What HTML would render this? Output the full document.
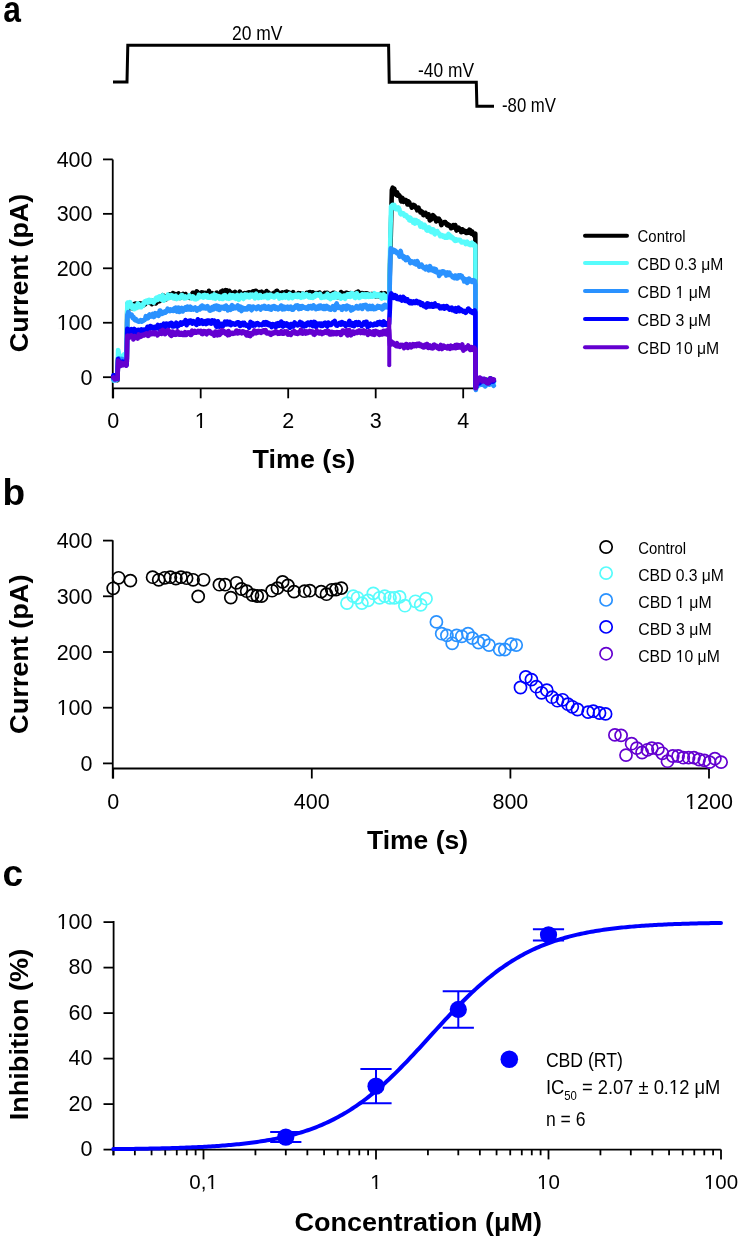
<!DOCTYPE html>
<html><head><meta charset="utf-8"><style>
html,body{margin:0;padding:0;background:#fff;}
svg{display:block;will-change:transform;}
text{font-family:'Liberation Sans',sans-serif;}
</style></head><body>
<svg width="741" height="1239" viewBox="0 0 741 1239">
<rect width="741" height="1239" fill="#fff"/>
<text transform="translate(3.2,22) scale(0.86,1)" font-size="37" font-weight="bold">a</text>
<text x="2.5" y="505" font-size="37" text-anchor="start" font-weight="bold" fill="#000" >b</text>
<text x="2.5" y="886" font-size="37" text-anchor="start" font-weight="bold" fill="#000" >c</text>
<polyline points="113,82 127,82 127.8,45.3 388.6,45.3 389.2,82.2 476.3,82.2 476.9,106.3 494,106.3" stroke="#000" stroke-width="3" fill="none" stroke-linejoin="miter"/>
<text x="232" y="40" font-size="20.5" text-anchor="start" font-weight="normal" fill="#000" textLength="50.5" lengthAdjust="spacingAndGlyphs" >20 mV</text>
<text x="418" y="76.8" font-size="20.5" text-anchor="start" font-weight="normal" fill="#000" textLength="56" lengthAdjust="spacingAndGlyphs" >-40 mV</text>
<text x="502" y="112" font-size="20.5" text-anchor="start" font-weight="normal" fill="#000" textLength="54" lengthAdjust="spacingAndGlyphs" >-80 mV</text>
<path d="M112.75,159.4 V398.3 M112.75,388.3 H476.6" stroke="#000" stroke-width="1.8" fill="none"/>
<path d="M103,377.20 H112.75" stroke="#000" stroke-width="1.8" fill="none"/>
<text x="92.5" y="384.8" font-size="21.5" text-anchor="end" font-weight="normal" fill="#000" >0</text>
<path d="M103,322.75 H112.75" stroke="#000" stroke-width="1.8" fill="none"/>
<text x="92.5" y="330.35" font-size="21.5" text-anchor="end" font-weight="normal" fill="#000" >100</text>
<path d="M103,268.30 H112.75" stroke="#000" stroke-width="1.8" fill="none"/>
<text x="92.5" y="275.90000000000003" font-size="21.5" text-anchor="end" font-weight="normal" fill="#000" >200</text>
<path d="M103,213.85 H112.75" stroke="#000" stroke-width="1.8" fill="none"/>
<text x="92.5" y="221.45" font-size="21.5" text-anchor="end" font-weight="normal" fill="#000" >300</text>
<path d="M103,159.40 H112.75" stroke="#000" stroke-width="1.8" fill="none"/>
<text x="92.5" y="167.0" font-size="21.5" text-anchor="end" font-weight="normal" fill="#000" >400</text>
<path d="M113.20,388.3 V398.3" stroke="#000" stroke-width="1.8" fill="none"/>
<text x="113.2" y="428" font-size="21.5" text-anchor="middle" font-weight="normal" fill="#000" >0</text>
<path d="M200.70,388.3 V398.3" stroke="#000" stroke-width="1.8" fill="none"/>
<text x="200.7" y="428" font-size="21.5" text-anchor="middle" font-weight="normal" fill="#000" >1</text>
<path d="M288.20,388.3 V398.3" stroke="#000" stroke-width="1.8" fill="none"/>
<text x="288.2" y="428" font-size="21.5" text-anchor="middle" font-weight="normal" fill="#000" >2</text>
<path d="M375.70,388.3 V398.3" stroke="#000" stroke-width="1.8" fill="none"/>
<text x="375.7" y="428" font-size="21.5" text-anchor="middle" font-weight="normal" fill="#000" >3</text>
<path d="M463.20,388.3 V398.3" stroke="#000" stroke-width="1.8" fill="none"/>
<text x="463.2" y="428" font-size="21.5" text-anchor="middle" font-weight="normal" fill="#000" >4</text>
<text x="252.6" y="468" font-size="25.5" text-anchor="start" font-weight="bold" fill="#000" textLength="102.6" lengthAdjust="spacingAndGlyphs" >Time (s)</text>
<text transform="translate(27.5,352.2) rotate(-90)" x="0" y="0" font-size="26" font-weight="bold" textLength="158.4" lengthAdjust="spacingAndGlyphs">Current (pA)</text>
<path d="M113.20,377.13 L113.47,377.52 L113.74,377.92 L114.02,377.36 L114.29,376.86 L114.56,375.64 L114.83,375.48 L115.10,376.01 L115.38,376.13 L115.65,377.59 L115.92,377.04 L116.19,377.11 L116.46,376.91 L116.73,377.19 L117.01,378.67 L117.28,379.41 L117.55,380.11 L117.82,367.60 L118.09,358.17 L118.37,357.92 L118.64,358.74 L118.91,359.30 L119.18,359.64 L119.45,360.93 L119.73,360.31 L120.00,359.99 L120.27,359.47 L120.54,359.53 L120.81,360.94 L121.08,361.44 L121.36,362.30 L121.63,361.57 L121.90,360.84 L122.17,360.99 L122.44,361.41 L122.72,362.03 L122.99,361.45 L123.26,361.62 L123.53,360.73 L123.80,360.24 L124.08,362.04 L124.35,361.56 L124.62,361.27 L124.89,362.68 L125.16,362.30 L125.43,362.26 L125.71,363.46 L125.98,362.29 L126.25,362.16 L126.52,363.09 L126.79,358.29 L127.07,323.42 L127.34,305.58 L127.61,303.83 L127.88,304.05 L128.15,304.39 L128.43,305.65 L128.70,306.28 L128.97,306.76 L129.24,307.20 L129.51,307.26 L129.78,308.21 L130.06,308.26 L130.33,307.22 L130.60,307.50 L130.87,307.76 L131.14,307.17 L131.42,306.97 L131.69,305.62 L131.96,305.74 L132.23,307.26 L132.50,307.94 L132.78,308.52 L133.05,308.09 L133.32,305.99 L133.59,305.47 L133.86,304.84 L134.13,304.08 L134.41,304.55 L134.68,304.40 L134.95,303.85 L135.22,303.76 L135.49,303.62 L135.77,305.38 L136.04,304.88 L136.31,304.62 L136.58,304.55 L136.85,304.79 L137.12,305.87 L137.40,305.97 L137.67,307.09 L137.94,306.20 L138.21,305.16 L138.48,306.19 L138.76,304.04 L139.03,303.74 L139.30,304.36 L139.57,303.34 L139.84,303.81 L140.12,303.87 L140.39,303.27 L140.66,303.86 L140.93,304.33 L141.20,303.80 L141.47,304.28 L141.75,304.65 L142.02,303.84 L142.29,303.57 L142.56,303.74 L142.83,303.99 L143.11,304.42 L143.38,305.26 L143.65,305.15 L143.92,303.51 L144.19,303.86 L144.47,302.99 L144.74,303.41 L145.01,304.52 L145.28,303.51 L145.55,303.57 L145.82,302.19 L146.10,301.44 L146.37,301.75 L146.64,302.27 L146.91,302.55 L147.18,302.61 L147.46,302.47 L147.73,302.26 L148.00,302.38 L148.27,301.82 L148.54,301.62 L148.82,300.64 L149.09,300.41 L149.36,301.15 L149.63,301.68 L149.90,302.89 L150.18,302.43 L150.45,302.20 L150.72,301.82 L150.99,300.71 L151.26,302.92 L151.53,303.29 L151.81,303.46 L152.08,304.18 L152.35,302.71 L152.62,302.32 L152.89,302.16 L153.17,302.15 L153.44,302.35 L153.71,300.57 L153.98,300.70 L154.25,301.19 L154.53,300.96 L154.80,302.23 L155.07,302.34 L155.34,303.36 L155.61,303.46 L155.88,302.57 L156.16,303.18 L156.43,301.40 L156.70,300.54 L156.97,300.42 L157.24,298.82 L157.52,299.86 L157.79,300.67 L158.06,300.98 L158.33,301.35 L158.60,299.64 L158.88,300.93 L159.15,299.93 L159.42,301.01 L159.69,301.13 L159.96,300.32 L160.23,300.71 L160.51,299.07 L160.78,299.39 L161.05,298.05 L161.32,297.31 L161.59,297.84 L161.87,297.75 L162.14,296.92 L162.41,296.72 L162.68,296.99 L162.95,295.18 L163.22,296.77 L163.50,296.57 L163.77,296.51 L164.04,297.97 L164.31,296.82 L164.58,297.02 L164.86,296.56 L165.13,297.50 L165.40,298.75 L165.67,298.66 L165.94,299.40 L166.22,298.99 L166.49,298.67 L166.76,298.22 L167.03,297.31 L167.30,295.67 L167.57,295.43 L167.85,296.22 L168.12,297.39 L168.39,297.86 L168.66,296.21 L168.93,296.56 L169.21,294.77 L169.48,294.52 L169.75,295.44 L170.02,295.99 L170.29,296.06 L170.57,296.76 L170.84,296.83 L171.11,295.17 L171.38,295.59 L171.65,294.71 L171.93,294.74 L172.20,294.26 L172.47,293.50 L172.74,293.67 L173.01,293.07 L173.28,294.21 L173.56,294.51 L173.83,295.31 L174.10,295.27 L174.37,293.81 L174.64,294.45 L174.92,295.83 L175.19,296.21 L175.46,298.25 L175.73,297.60 L176.00,296.08 L176.28,296.18 L176.55,295.17 L176.82,295.11 L177.09,295.48 L177.36,294.16 L177.63,294.31 L177.91,294.18 L178.18,293.62 L178.45,293.47 L178.72,293.88 L178.99,293.95 L179.27,295.73 L179.54,297.13 L179.81,298.06 L180.08,298.02 L180.35,297.51 L180.62,296.98 L180.90,295.76 L181.17,296.55 L181.44,296.19 L181.71,296.14 L181.98,294.90 L182.26,294.81 L182.53,294.16 L182.80,294.00 L183.07,295.17 L183.34,296.01 L183.62,296.60 L183.89,296.34 L184.16,297.38 L184.43,296.94 L184.70,296.08 L184.97,295.93 L185.25,294.80 L185.52,294.03 L185.79,294.53 L186.06,295.79 L186.33,296.73 L186.61,297.43 L186.88,297.03 L187.15,296.59 L187.42,296.01 L187.69,296.32 L187.97,297.61 L188.24,297.32 L188.51,297.29 L188.78,296.63 L189.05,297.22 L189.32,297.13 L189.60,296.60 L189.87,297.89 L190.14,296.05 L190.41,296.34 L190.68,297.24 L190.96,296.41 L191.23,296.53 L191.50,296.54 L191.77,295.01 L192.04,294.04 L192.32,293.87 L192.59,293.24 L192.86,292.81 L193.13,292.76 L193.40,292.80 L193.68,294.15 L193.95,294.43 L194.22,293.99 L194.49,294.30 L194.76,293.54 L195.03,293.08 L195.31,294.87 L195.58,294.37 L195.85,292.54 L196.12,293.81 L196.39,292.42 L196.67,291.45 L196.94,292.85 L197.21,292.06 L197.48,291.97 L197.75,293.58 L198.02,293.70 L198.30,293.81 L198.57,293.82 L198.84,293.29 L199.11,293.45 L199.38,294.25 L199.66,294.90 L199.93,294.35 L200.20,294.20 L200.47,294.06 L200.74,294.40 L201.02,293.61 L201.29,293.08 L201.56,292.36 L201.83,293.23 L202.10,294.30 L202.38,294.66 L202.65,294.12 L202.92,292.68 L203.19,292.95 L203.46,292.83 L203.73,294.82 L204.01,294.28 L204.28,294.15 L204.55,295.02 L204.82,293.08 L205.09,292.84 L205.37,293.82 L205.64,293.88 L205.91,294.00 L206.18,294.98 L206.45,294.42 L206.72,294.59 L207.00,293.60 L207.27,293.05 L207.54,293.36 L207.81,293.51 L208.08,293.67 L208.36,293.51 L208.63,291.81 L208.90,290.74 L209.17,292.34 L209.44,292.88 L209.72,295.06 L209.99,296.09 L210.26,295.77 L210.53,295.82 L210.80,295.14 L211.07,294.71 L211.35,294.36 L211.62,294.48 L211.89,293.56 L212.16,293.27 L212.43,293.73 L212.71,293.71 L212.98,294.04 L213.25,294.63 L213.52,294.82 L213.79,295.22 L214.07,295.39 L214.34,294.99 L214.61,294.54 L214.88,294.50 L215.15,294.30 L215.43,295.09 L215.70,294.67 L215.97,293.82 L216.24,293.16 L216.51,292.73 L216.78,292.67 L217.06,293.75 L217.33,294.71 L217.60,294.42 L217.87,295.07 L218.14,294.07 L218.42,293.60 L218.69,295.17 L218.96,295.23 L219.23,294.84 L219.50,294.51 L219.78,293.77 L220.05,293.61 L220.32,294.19 L220.59,293.76 L220.86,292.97 L221.13,291.56 L221.41,291.30 L221.68,291.55 L221.95,291.41 L222.22,291.32 L222.49,291.14 L222.77,290.70 L223.04,291.84 L223.31,292.69 L223.58,292.79 L223.85,293.70 L224.12,292.46 L224.40,291.96 L224.67,291.76 L224.94,291.44 L225.21,290.45 L225.48,290.13 L225.76,290.87 L226.03,290.67 L226.30,290.60 L226.57,291.47 L226.84,290.79 L227.12,290.48 L227.39,291.73 L227.66,291.89 L227.93,292.39 L228.20,292.83 L228.47,292.13 L228.75,291.08 L229.02,291.22 L229.29,291.01 L229.56,291.45 L229.83,291.70 L230.11,291.73 L230.38,292.42 L230.65,292.32 L230.92,293.21 L231.19,293.78 L231.47,293.74 L231.74,295.23 L232.01,294.90 L232.28,295.57 L232.55,295.86 L232.82,294.65 L233.10,294.13 L233.37,293.03 L233.64,292.76 L233.91,293.58 L234.18,293.07 L234.46,293.00 L234.73,292.20 L235.00,291.93 L235.27,293.20 L235.54,294.62 L235.82,294.79 L236.09,293.68 L236.36,294.69 L236.63,293.78 L236.90,293.81 L237.18,295.49 L237.45,295.36 L237.72,295.91 L237.99,296.64 L238.26,296.57 L238.53,295.42 L238.81,294.73 L239.08,294.06 L239.35,292.98 L239.62,292.01 L239.89,291.59 L240.17,292.69 L240.44,293.44 L240.71,294.95 L240.98,296.27 L241.25,295.46 L241.52,295.25 L241.80,294.31 L242.07,294.37 L242.34,295.00 L242.61,294.97 L242.88,295.50 L243.16,294.57 L243.43,293.71 L243.70,294.16 L243.97,293.64 L244.24,293.23 L244.52,293.17 L244.79,293.01 L245.06,293.35 L245.33,295.26 L245.60,295.80 L245.88,295.30 L246.15,296.09 L246.42,294.41 L246.69,293.45 L246.96,294.18 L247.23,293.36 L247.51,293.76 L247.78,293.63 L248.05,292.55 L248.32,292.39 L248.59,292.77 L248.87,293.20 L249.14,293.56 L249.41,293.14 L249.68,292.36 L249.95,292.78 L250.22,293.45 L250.50,294.05 L250.77,294.53 L251.04,294.80 L251.31,294.25 L251.58,294.29 L251.86,293.86 L252.13,292.86 L252.40,293.01 L252.67,291.54 L252.94,291.71 L253.22,291.38 L253.49,291.34 L253.76,292.06 L254.03,293.32 L254.30,294.46 L254.57,294.28 L254.85,294.58 L255.12,291.82 L255.39,291.25 L255.66,290.70 L255.93,290.74 L256.21,291.65 L256.48,291.51 L256.75,292.24 L257.02,292.56 L257.29,293.81 L257.57,293.34 L257.84,294.00 L258.11,294.17 L258.38,292.40 L258.65,293.16 L258.93,292.57 L259.20,292.17 L259.47,293.23 L259.74,293.51 L260.01,293.55 L260.28,293.78 L260.56,293.36 L260.83,293.58 L261.10,292.53 L261.37,291.85 L261.64,292.42 L261.92,291.81 L262.19,293.18 L262.46,293.25 L262.73,293.49 L263.00,292.97 L263.27,293.12 L263.55,294.42 L263.82,293.52 L264.09,293.15 L264.36,293.04 L264.63,292.88 L264.91,292.77 L265.18,293.72 L265.45,293.55 L265.72,292.16 L265.99,291.81 L266.27,292.06 L266.54,290.98 L266.81,291.66 L267.08,291.91 L267.35,292.00 L267.62,293.28 L267.90,294.36 L268.17,293.87 L268.44,292.59 L268.71,293.38 L268.98,293.12 L269.26,295.23 L269.53,295.57 L269.80,295.39 L270.07,294.56 L270.34,293.86 L270.62,294.79 L270.89,295.11 L271.16,294.93 L271.43,295.57 L271.70,295.58 L271.97,294.57 L272.25,294.28 L272.52,293.56 L272.79,293.94 L273.06,294.21 L273.33,294.74 L273.61,293.73 L273.88,292.78 L274.15,293.02 L274.42,292.81 L274.69,294.10 L274.97,295.08 L275.24,295.09 L275.51,294.62 L275.78,293.83 L276.05,292.82 L276.32,291.17 L276.60,291.63 L276.87,291.98 L277.14,290.78 L277.41,293.01 L277.68,292.85 L277.96,292.70 L278.23,294.30 L278.50,292.94 L278.77,292.97 L279.04,293.01 L279.32,293.17 L279.59,293.01 L279.86,293.91 L280.13,294.52 L280.40,294.73 L280.68,295.64 L280.95,295.07 L281.22,294.24 L281.49,294.60 L281.76,293.68 L282.03,292.84 L282.31,293.04 L282.58,292.50 L282.85,292.77 L283.12,294.11 L283.39,294.22 L283.67,294.14 L283.94,294.24 L284.21,293.38 L284.48,293.04 L284.75,293.86 L285.02,293.06 L285.30,292.10 L285.57,292.72 L285.84,292.02 L286.11,292.41 L286.38,292.52 L286.66,292.08 L286.93,291.72 L287.20,291.88 L287.47,292.93 L287.74,293.09 L288.02,294.76 L288.29,293.70 L288.56,293.08 L288.83,294.08 L289.10,292.62 L289.38,293.61 L289.65,294.11 L289.92,292.96 L290.19,294.36 L290.46,294.56 L290.73,293.96 L291.01,294.59 L291.28,294.24 L291.55,294.99 L291.82,296.57 L292.09,296.03 L292.37,294.76 L292.64,293.78 L292.91,293.07 L293.18,292.17 L293.45,293.36 L293.72,294.21 L294.00,294.18 L294.27,295.13 L294.54,295.61 L294.81,295.74 L295.08,295.78 L295.36,296.07 L295.63,296.23 L295.90,295.60 L296.17,296.00 L296.44,295.83 L296.72,295.02 L296.99,295.15 L297.26,295.01 L297.53,294.71 L297.80,293.80 L298.07,293.90 L298.35,293.14 L298.62,294.10 L298.89,294.77 L299.16,293.93 L299.43,293.49 L299.71,293.24 L299.98,293.19 L300.25,293.69 L300.52,295.18 L300.79,294.91 L301.07,295.37 L301.34,295.10 L301.61,294.89 L301.88,296.02 L302.15,295.64 L302.43,295.66 L302.70,295.27 L302.97,293.65 L303.24,294.18 L303.51,294.79 L303.78,294.15 L304.06,295.48 L304.33,295.74 L304.60,295.52 L304.87,295.45 L305.14,294.63 L305.42,294.29 L305.69,294.45 L305.96,294.80 L306.23,293.92 L306.50,294.38 L306.77,292.70 L307.05,293.20 L307.32,294.14 L307.59,293.79 L307.86,294.47 L308.13,294.80 L308.41,296.07 L308.68,295.94 L308.95,295.93 L309.22,294.75 L309.49,292.18 L309.77,292.50 L310.04,292.54 L310.31,292.26 L310.58,293.38 L310.85,292.38 L311.12,293.22 L311.40,293.94 L311.67,296.05 L311.94,296.53 L312.21,295.99 L312.48,295.31 L312.76,292.30 L313.03,292.61 L313.30,292.67 L313.57,293.50 L313.84,295.06 L314.12,295.59 L314.39,294.93 L314.66,294.52 L314.93,294.06 L315.20,293.86 L315.47,293.68 L315.75,293.63 L316.02,293.61 L316.29,293.15 L316.56,293.63 L316.83,294.67 L317.11,293.72 L317.38,293.95 L317.65,294.45 L317.92,293.08 L318.19,293.67 L318.47,294.77 L318.74,293.51 L319.01,293.88 L319.28,293.74 L319.55,292.60 L319.82,293.68 L320.10,294.71 L320.37,294.59 L320.64,295.04 L320.91,295.08 L321.18,294.07 L321.46,294.64 L321.73,294.29 L322.00,294.23 L322.27,294.36 L322.54,295.51 L322.82,296.32 L323.09,295.67 L323.36,295.03 L323.63,293.91 L323.90,293.94 L324.18,293.48 L324.45,294.55 L324.72,293.99 L324.99,292.96 L325.26,293.99 L325.53,293.02 L325.81,293.90 L326.08,294.66 L326.35,294.56 L326.62,295.05 L326.89,293.88 L327.17,292.83 L327.44,292.92 L327.71,293.34 L327.98,293.60 L328.25,295.36 L328.52,294.67 L328.80,294.24 L329.07,294.80 L329.34,293.97 L329.61,295.14 L329.88,295.07 L330.16,295.61 L330.43,296.14 L330.70,295.52 L330.97,296.16 L331.24,294.63 L331.52,294.17 L331.79,294.16 L332.06,293.72 L332.33,293.43 L332.60,293.61 L332.88,293.20 L333.15,292.86 L333.42,293.68 L333.69,294.55 L333.96,293.32 L334.23,292.80 L334.51,293.84 L334.78,293.31 L335.05,294.66 L335.32,295.43 L335.59,293.67 L335.87,293.74 L336.14,294.42 L336.41,294.90 L336.68,294.70 L336.95,295.24 L337.22,295.40 L337.50,295.49 L337.77,297.13 L338.04,296.86 L338.31,296.54 L338.58,296.08 L338.86,295.09 L339.13,295.36 L339.40,295.07 L339.67,295.34 L339.94,295.26 L340.22,294.83 L340.49,294.15 L340.76,293.43 L341.03,292.08 L341.30,292.63 L341.57,293.03 L341.85,295.09 L342.12,294.95 L342.39,294.95 L342.66,294.73 L342.93,293.22 L343.21,295.09 L343.48,294.39 L343.75,294.40 L344.02,295.81 L344.29,294.67 L344.57,294.40 L344.84,295.27 L345.11,293.74 L345.38,293.70 L345.65,294.29 L345.93,292.93 L346.20,292.75 L346.47,293.01 L346.74,292.87 L347.01,293.43 L347.28,293.69 L347.56,294.06 L347.83,294.60 L348.10,293.41 L348.37,293.73 L348.64,293.46 L348.92,294.06 L349.19,295.56 L349.46,295.77 L349.73,295.00 L350.00,294.19 L350.28,293.31 L350.55,293.49 L350.82,293.09 L351.09,293.74 L351.36,294.23 L351.63,293.89 L351.91,294.66 L352.18,294.73 L352.45,294.53 L352.72,295.24 L352.99,294.77 L353.27,294.33 L353.54,294.61 L353.81,294.22 L354.08,294.50 L354.35,295.22 L354.62,294.01 L354.90,294.49 L355.17,294.68 L355.44,293.52 L355.71,293.15 L355.98,293.37 L356.26,292.73 L356.53,293.56 L356.80,293.06 L357.07,292.97 L357.34,292.56 L357.62,292.47 L357.89,293.21 L358.16,291.50 L358.43,293.59 L358.70,293.54 L358.97,293.86 L359.25,295.45 L359.52,294.26 L359.79,292.92 L360.06,293.31 L360.33,294.23 L360.61,293.36 L360.88,295.70 L361.15,295.12 L361.42,294.40 L361.69,294.65 L361.97,293.02 L362.24,293.85 L362.51,294.40 L362.78,295.43 L363.05,295.53 L363.32,295.26 L363.60,294.88 L363.87,293.47 L364.14,293.67 L364.41,293.76 L364.68,294.67 L364.96,295.51 L365.23,295.25 L365.50,295.26 L365.77,293.41 L366.04,294.60 L366.32,295.21 L366.59,295.28 L366.86,294.27 L367.13,293.45 L367.40,293.60 L367.67,293.95 L367.95,294.88 L368.22,294.71 L368.49,293.92 L368.76,294.48 L369.03,294.63 L369.31,294.69 L369.58,295.15 L369.85,295.03 L370.12,296.10 L370.39,294.96 L370.67,294.96 L370.94,295.00 L371.21,294.02 L371.48,294.13 L371.75,294.82 L372.02,294.80 L372.30,294.52 L372.57,294.73 L372.84,294.22 L373.11,295.27 L373.38,294.80 L373.66,294.98 L373.93,294.79 L374.20,293.99 L374.47,294.49 L374.74,294.99 L375.02,295.48 L375.29,295.78 L375.56,296.27 L375.83,296.40 L376.10,296.46 L376.37,295.81 L376.65,296.32 L376.92,295.67 L377.19,295.82 L377.46,296.14 L377.73,294.58 L378.01,294.71 L378.28,294.34 L378.55,294.54 L378.82,295.14 L379.09,296.27 L379.37,296.16 L379.64,296.15 L379.91,296.53 L380.18,295.59 L380.45,294.78 L380.72,294.39 L381.00,293.47 L381.27,293.25 L381.54,293.76 L381.81,294.27 L382.08,295.09 L382.36,295.52 L382.63,295.44 L382.90,296.49 L383.17,296.56 L383.44,296.23 L383.72,296.59 L383.99,295.49 L384.26,294.93 L384.53,294.87 L384.80,293.38 L385.07,295.03 L385.35,295.36 L385.62,296.13 L385.89,296.82 L386.16,293.95 L386.43,295.28 L386.71,294.28 L386.98,294.52 L387.25,296.15 L387.52,294.49 L387.79,295.77 L388.07,295.39 L388.34,294.99 L388.61,295.32 L388.88,294.15 L389.15,294.31 L389.42,288.35 L389.70,277.37 L389.97,266.30 L390.24,257.27 L390.51,246.15 L390.78,235.36 L391.06,223.67 L391.33,211.99 L391.60,200.97 L391.87,189.69 L392.14,189.64 L392.42,188.67 L392.69,187.70 L392.96,188.68 L393.23,190.06 L393.50,190.41 L393.77,190.94 L394.05,190.20 L394.32,188.84 L394.59,189.86 L394.86,191.50 L395.13,191.93 L395.41,193.34 L395.68,194.42 L395.95,194.83 L396.22,194.16 L396.49,192.68 L396.77,192.21 L397.04,192.22 L397.31,193.75 L397.58,195.58 L397.85,194.62 L398.12,194.50 L398.40,195.36 L398.67,194.70 L398.94,196.00 L399.21,196.03 L399.48,195.55 L399.76,196.91 L400.03,196.70 L400.30,197.34 L400.57,198.59 L400.84,199.95 L401.12,201.15 L401.39,201.43 L401.66,200.66 L401.93,199.32 L402.20,198.34 L402.47,197.99 L402.75,198.70 L403.02,199.40 L403.29,201.13 L403.56,201.77 L403.83,201.11 L404.11,200.76 L404.38,199.87 L404.65,200.12 L404.92,200.14 L405.19,200.69 L405.47,200.27 L405.74,200.14 L406.01,200.91 L406.28,200.49 L406.55,201.53 L406.82,202.16 L407.10,202.97 L407.37,204.40 L407.64,203.36 L407.91,202.25 L408.18,202.05 L408.46,201.36 L408.73,201.80 L409.00,202.69 L409.27,202.21 L409.54,203.43 L409.82,204.63 L410.09,204.96 L410.36,204.99 L410.63,204.58 L410.90,204.82 L411.17,205.29 L411.45,206.76 L411.72,207.68 L411.99,206.53 L412.26,206.87 L412.53,206.68 L412.81,205.02 L413.08,205.41 L413.35,204.86 L413.62,205.47 L413.89,206.64 L414.17,206.63 L414.44,206.51 L414.71,205.45 L414.98,205.84 L415.25,206.48 L415.52,207.40 L415.80,207.79 L416.07,207.33 L416.34,208.52 L416.61,208.62 L416.88,209.07 L417.16,210.33 L417.43,209.89 L417.70,209.42 L417.97,208.56 L418.24,207.99 L418.52,207.70 L418.79,209.31 L419.06,209.59 L419.33,209.90 L419.60,210.31 L419.87,210.14 L420.15,211.45 L420.42,212.38 L420.69,212.41 L420.96,211.56 L421.23,211.84 L421.51,211.32 L421.78,212.07 L422.05,211.78 L422.32,212.24 L422.59,213.75 L422.87,213.46 L423.14,214.85 L423.41,215.10 L423.68,214.43 L423.95,214.08 L424.22,214.33 L424.50,214.09 L424.77,213.29 L425.04,213.25 L425.31,212.79 L425.58,212.84 L425.86,213.77 L426.13,214.47 L426.40,214.06 L426.67,214.27 L426.94,215.62 L427.22,215.70 L427.49,216.90 L427.76,216.72 L428.03,215.74 L428.30,216.04 L428.57,214.27 L428.85,215.57 L429.12,215.98 L429.39,216.98 L429.66,219.82 L429.93,220.34 L430.21,219.72 L430.48,219.22 L430.75,219.10 L431.02,219.17 L431.29,219.13 L431.57,219.28 L431.84,218.52 L432.11,217.60 L432.38,217.26 L432.65,215.85 L432.92,215.23 L433.20,215.58 L433.47,216.38 L433.74,216.55 L434.01,216.42 L434.28,216.78 L434.56,216.65 L434.83,217.70 L435.10,218.55 L435.37,218.76 L435.64,219.86 L435.92,220.34 L436.19,221.47 L436.46,220.42 L436.73,219.71 L437.00,220.14 L437.27,218.60 L437.55,219.09 L437.82,220.46 L438.09,218.94 L438.36,219.66 L438.63,219.03 L438.91,218.72 L439.18,219.57 L439.45,220.13 L439.72,221.29 L439.99,220.65 L440.27,220.59 L440.54,221.95 L440.81,223.06 L441.08,224.14 L441.35,225.11 L441.62,224.57 L441.90,223.71 L442.17,223.03 L442.44,222.71 L442.71,222.85 L442.98,223.30 L443.26,223.27 L443.53,222.87 L443.80,222.61 L444.07,222.66 L444.34,222.25 L444.62,223.23 L444.89,222.86 L445.16,222.02 L445.43,223.10 L445.70,222.50 L445.97,223.57 L446.25,223.48 L446.52,223.40 L446.79,224.93 L447.06,224.13 L447.33,225.30 L447.61,224.64 L447.88,224.22 L448.15,224.91 L448.42,224.66 L448.69,225.66 L448.97,225.17 L449.24,225.56 L449.51,225.47 L449.78,225.29 L450.05,225.37 L450.32,226.83 L450.60,226.72 L450.87,226.92 L451.14,228.22 L451.41,226.81 L451.68,227.33 L451.96,226.90 L452.23,226.66 L452.50,225.86 L452.77,226.32 L453.04,225.56 L453.32,225.08 L453.59,225.63 L453.86,225.66 L454.13,227.71 L454.40,227.21 L454.67,227.13 L454.95,226.25 L455.22,224.99 L455.49,225.93 L455.76,227.50 L456.03,228.84 L456.31,229.86 L456.58,230.49 L456.85,229.21 L457.12,228.62 L457.39,228.42 L457.67,227.99 L457.94,228.62 L458.21,228.72 L458.48,228.21 L458.75,227.78 L459.02,228.14 L459.30,229.47 L459.57,229.26 L459.84,229.99 L460.11,229.04 L460.38,229.34 L460.66,230.53 L460.93,230.64 L461.20,232.18 L461.47,231.74 L461.74,231.26 L462.02,230.84 L462.29,229.26 L462.56,229.50 L462.83,230.97 L463.10,231.27 L463.37,231.54 L463.65,231.14 L463.92,231.07 L464.19,231.03 L464.46,231.28 L464.73,231.15 L465.01,230.82 L465.28,231.36 L465.55,231.47 L465.82,232.23 L466.09,232.85 L466.37,233.00 L466.64,233.05 L466.91,232.89 L467.18,231.26 L467.45,231.81 L467.72,232.26 L468.00,232.44 L468.27,232.59 L468.54,231.16 L468.81,231.28 L469.08,230.16 L469.36,229.71 L469.63,230.15 L469.90,229.91 L470.17,230.09 L470.44,231.07 L470.72,231.83 L470.99,232.77 L471.26,233.51 L471.53,232.77 L471.80,232.35 L472.07,231.52 L472.35,231.86 L472.62,232.74 L472.89,233.91 L473.16,233.49 L473.43,234.15 L473.71,235.00 L473.98,234.79 L474.25,235.82 L474.52,235.40 L474.79,234.13 L475.07,234.50 L475.34,233.71 L475.61,386.39 L475.88,387.27 L476.15,387.37 L476.42,382.80 L476.70,383.60 L476.97,383.03 L477.24,382.43 L477.51,383.20 L477.78,382.82 L478.06,383.85 L478.33,383.15 L478.60,382.86 L478.87,383.40 L479.14,383.15 L479.42,383.95 L479.69,382.79 L479.96,381.96 L480.23,380.92 L480.50,380.24 L480.78,381.94 L481.05,382.87 L481.32,383.33 L481.59,384.11 L481.86,382.92 L482.13,383.00 L482.41,383.24 L482.68,383.18 L482.95,384.67 L483.22,384.00 L483.49,382.74 L483.77,382.15 L484.04,381.59 L484.31,383.45 L484.58,384.14 L484.85,383.49 L485.12,382.59 L485.40,380.29 L485.67,379.48 L485.94,379.53 L486.21,379.85 L486.48,379.61 L486.76,380.02 L487.03,381.53 L487.30,381.57 L487.57,382.72 L487.84,383.26 L488.12,382.06 L488.39,382.48 L488.66,383.05 L488.93,382.42 L489.20,382.47 L489.47,381.03 L489.75,380.56 L490.02,380.59 L490.29,379.74 L490.56,379.42 L490.83,378.68 L491.11,379.18 L491.38,380.50 L491.65,381.18 L491.92,380.62 L492.19,380.89 L492.47,381.67 L492.74,381.82 L493.01,382.77 L493.28,382.47 L493.55,381.54 L493.82,381.17" stroke="#000000" stroke-width="4.6" fill="none" stroke-linejoin="round" stroke-linecap="round"/>
<path d="M113.20,379.74 L113.47,379.20 L113.74,380.58 L114.02,379.27 L114.29,378.88 L114.56,379.01 L114.83,378.43 L115.10,378.21 L115.38,377.85 L115.65,378.54 L115.92,377.28 L116.19,377.51 L116.46,377.61 L116.73,377.29 L117.01,377.56 L117.28,377.33 L117.55,376.60 L117.82,360.79 L118.09,349.94 L118.37,351.02 L118.64,352.14 L118.91,353.80 L119.18,354.21 L119.45,354.63 L119.73,356.10 L120.00,357.99 L120.27,358.66 L120.54,358.91 L120.81,358.82 L121.08,357.85 L121.36,357.03 L121.63,357.13 L121.90,357.40 L122.17,357.57 L122.44,358.08 L122.72,358.51 L122.99,358.86 L123.26,357.40 L123.53,356.87 L123.80,355.50 L124.08,354.33 L124.35,355.20 L124.62,356.98 L124.89,356.73 L125.16,356.70 L125.43,356.84 L125.71,356.94 L125.98,357.06 L126.25,357.09 L126.52,357.87 L126.79,352.85 L127.07,319.17 L127.34,303.37 L127.61,302.52 L127.88,302.71 L128.15,303.14 L128.43,303.16 L128.70,305.01 L128.97,305.78 L129.24,304.53 L129.51,304.59 L129.78,303.15 L130.06,302.17 L130.33,303.20 L130.60,303.21 L130.87,304.41 L131.14,305.09 L131.42,307.00 L131.69,307.68 L131.96,307.03 L132.23,308.26 L132.50,307.04 L132.78,306.54 L133.05,306.41 L133.32,305.52 L133.59,306.08 L133.86,307.83 L134.13,309.29 L134.41,308.77 L134.68,307.39 L134.95,307.09 L135.22,305.95 L135.49,306.10 L135.77,307.63 L136.04,305.78 L136.31,307.90 L136.58,308.03 L136.85,307.45 L137.12,307.37 L137.40,304.93 L137.67,303.51 L137.94,303.33 L138.21,303.95 L138.48,304.19 L138.76,305.08 L139.03,304.80 L139.30,305.34 L139.57,306.25 L139.84,307.03 L140.12,306.14 L140.39,306.31 L140.66,307.23 L140.93,306.26 L141.20,307.23 L141.47,306.79 L141.75,304.59 L142.02,304.65 L142.29,304.50 L142.56,304.83 L142.83,305.62 L143.11,305.62 L143.38,305.39 L143.65,303.12 L143.92,302.62 L144.19,302.67 L144.47,301.66 L144.74,302.89 L145.01,302.46 L145.28,301.40 L145.55,301.84 L145.82,301.85 L146.10,301.53 L146.37,301.18 L146.64,300.70 L146.91,301.37 L147.18,302.01 L147.46,302.62 L147.73,302.66 L148.00,301.70 L148.27,301.79 L148.54,300.85 L148.82,299.98 L149.09,299.82 L149.36,300.22 L149.63,300.56 L149.90,301.50 L150.18,301.96 L150.45,301.05 L150.72,300.20 L150.99,300.12 L151.26,300.45 L151.53,300.33 L151.81,300.99 L152.08,301.14 L152.35,300.67 L152.62,301.72 L152.89,302.23 L153.17,302.21 L153.44,302.33 L153.71,302.76 L153.98,301.23 L154.25,301.66 L154.53,301.40 L154.80,299.47 L155.07,301.22 L155.34,299.68 L155.61,299.51 L155.88,299.15 L156.16,297.73 L156.43,298.12 L156.70,297.64 L156.97,297.86 L157.24,298.57 L157.52,299.69 L157.79,299.81 L158.06,299.08 L158.33,298.12 L158.60,296.91 L158.88,296.64 L159.15,297.17 L159.42,296.26 L159.69,297.38 L159.96,297.48 L160.23,297.87 L160.51,298.66 L160.78,298.46 L161.05,299.13 L161.32,299.48 L161.59,299.72 L161.87,298.09 L162.14,296.66 L162.41,296.04 L162.68,295.15 L162.95,297.12 L163.22,299.69 L163.50,300.59 L163.77,300.72 L164.04,299.37 L164.31,297.67 L164.58,297.14 L164.86,297.36 L165.13,298.84 L165.40,299.49 L165.67,298.93 L165.94,299.00 L166.22,298.95 L166.49,298.53 L166.76,298.83 L167.03,298.37 L167.30,296.98 L167.57,296.38 L167.85,294.52 L168.12,295.61 L168.39,296.46 L168.66,296.86 L168.93,298.14 L169.21,297.09 L169.48,296.72 L169.75,295.44 L170.02,295.70 L170.29,296.40 L170.57,296.86 L170.84,297.37 L171.11,297.47 L171.38,296.30 L171.65,295.15 L171.93,296.01 L172.20,295.55 L172.47,295.55 L172.74,297.42 L173.01,296.26 L173.28,296.78 L173.56,298.39 L173.83,296.73 L174.10,296.90 L174.37,297.14 L174.64,296.25 L174.92,296.60 L175.19,296.24 L175.46,295.72 L175.73,295.67 L176.00,296.53 L176.28,297.15 L176.55,297.33 L176.82,299.08 L177.09,297.24 L177.36,297.34 L177.63,297.83 L177.91,297.28 L178.18,298.37 L178.45,298.13 L178.72,297.97 L178.99,297.10 L179.27,297.60 L179.54,298.20 L179.81,298.02 L180.08,298.16 L180.35,296.99 L180.62,296.61 L180.90,296.50 L181.17,295.72 L181.44,295.24 L181.71,294.99 L181.98,295.04 L182.26,295.23 L182.53,296.48 L182.80,297.11 L183.07,297.11 L183.34,296.99 L183.62,296.64 L183.89,297.29 L184.16,298.46 L184.43,298.53 L184.70,297.75 L184.97,296.77 L185.25,296.53 L185.52,296.86 L185.79,297.31 L186.06,298.04 L186.33,297.14 L186.61,297.16 L186.88,297.41 L187.15,297.57 L187.42,297.63 L187.69,297.25 L187.97,297.56 L188.24,297.41 L188.51,297.28 L188.78,297.07 L189.05,296.88 L189.32,295.38 L189.60,296.16 L189.87,297.02 L190.14,296.24 L190.41,297.28 L190.68,296.93 L190.96,296.28 L191.23,297.55 L191.50,298.09 L191.77,298.45 L192.04,297.74 L192.32,297.68 L192.59,296.38 L192.86,296.36 L193.13,297.50 L193.40,296.74 L193.68,297.46 L193.95,298.19 L194.22,298.58 L194.49,298.38 L194.76,299.12 L195.03,298.57 L195.31,298.36 L195.58,298.51 L195.85,298.26 L196.12,299.31 L196.39,298.34 L196.67,298.07 L196.94,297.88 L197.21,297.80 L197.48,297.44 L197.75,298.58 L198.02,297.83 L198.30,296.99 L198.57,296.22 L198.84,294.86 L199.11,294.83 L199.38,295.10 L199.66,295.94 L199.93,297.21 L200.20,296.57 L200.47,296.38 L200.74,296.41 L201.02,296.31 L201.29,296.49 L201.56,296.36 L201.83,296.72 L202.10,295.75 L202.38,295.73 L202.65,296.13 L202.92,295.38 L203.19,295.99 L203.46,297.56 L203.73,296.88 L204.01,295.36 L204.28,295.15 L204.55,294.93 L204.82,295.02 L205.09,296.71 L205.37,296.32 L205.64,295.67 L205.91,296.61 L206.18,296.72 L206.45,297.09 L206.72,297.33 L207.00,296.63 L207.27,295.32 L207.54,296.14 L207.81,296.40 L208.08,296.86 L208.36,297.63 L208.63,296.73 L208.90,297.50 L209.17,297.00 L209.44,297.59 L209.72,297.58 L209.99,297.30 L210.26,297.47 L210.53,296.87 L210.80,297.32 L211.07,296.21 L211.35,296.43 L211.62,296.12 L211.89,295.65 L212.16,296.90 L212.43,296.68 L212.71,297.70 L212.98,298.07 L213.25,297.80 L213.52,296.55 L213.79,296.23 L214.07,294.96 L214.34,294.46 L214.61,296.03 L214.88,297.04 L215.15,297.61 L215.43,298.79 L215.70,297.75 L215.97,296.03 L216.24,296.38 L216.51,295.46 L216.78,296.05 L217.06,296.28 L217.33,296.57 L217.60,296.97 L217.87,296.99 L218.14,296.11 L218.42,296.44 L218.69,296.20 L218.96,296.58 L219.23,297.79 L219.50,298.27 L219.78,298.79 L220.05,297.76 L220.32,297.30 L220.59,296.89 L220.86,296.62 L221.13,297.23 L221.41,297.28 L221.68,296.82 L221.95,296.85 L222.22,298.11 L222.49,298.90 L222.77,298.63 L223.04,298.84 L223.31,296.24 L223.58,295.79 L223.85,296.46 L224.12,295.65 L224.40,296.40 L224.67,295.37 L224.94,295.07 L225.21,295.84 L225.48,295.44 L225.76,296.94 L226.03,297.56 L226.30,297.77 L226.57,298.32 L226.84,297.36 L227.12,297.11 L227.39,296.65 L227.66,296.81 L227.93,296.73 L228.20,297.93 L228.47,298.24 L228.75,297.82 L229.02,298.87 L229.29,296.99 L229.56,296.70 L229.83,295.98 L230.11,294.90 L230.38,295.34 L230.65,295.69 L230.92,296.81 L231.19,297.46 L231.47,297.86 L231.74,297.47 L232.01,297.09 L232.28,295.44 L232.55,296.09 L232.82,295.40 L233.10,295.32 L233.37,296.96 L233.64,295.51 L233.91,296.36 L234.18,296.70 L234.46,296.29 L234.73,296.90 L235.00,298.23 L235.27,297.39 L235.54,298.42 L235.82,298.75 L236.09,297.27 L236.36,297.27 L236.63,296.96 L236.90,295.18 L237.18,294.96 L237.45,295.36 L237.72,295.27 L237.99,296.75 L238.26,298.32 L238.53,298.85 L238.81,299.90 L239.08,298.60 L239.35,297.46 L239.62,296.86 L239.89,296.35 L240.17,296.86 L240.44,296.77 L240.71,295.64 L240.98,294.91 L241.25,294.69 L241.52,294.94 L241.80,295.36 L242.07,296.04 L242.34,296.87 L242.61,297.85 L242.88,298.29 L243.16,298.70 L243.43,298.97 L243.70,297.34 L243.97,297.10 L244.24,295.87 L244.52,294.91 L244.79,294.76 L245.06,294.41 L245.33,295.57 L245.60,295.60 L245.88,296.43 L246.15,297.07 L246.42,296.08 L246.69,295.45 L246.96,295.94 L247.23,294.64 L247.51,294.71 L247.78,296.54 L248.05,295.66 L248.32,296.33 L248.59,296.78 L248.87,296.57 L249.14,297.50 L249.41,297.48 L249.68,297.31 L249.95,296.47 L250.22,295.24 L250.50,294.68 L250.77,295.57 L251.04,296.06 L251.31,296.39 L251.58,296.46 L251.86,295.69 L252.13,295.34 L252.40,295.44 L252.67,294.66 L252.94,296.25 L253.22,296.32 L253.49,295.06 L253.76,296.12 L254.03,296.05 L254.30,295.95 L254.57,297.93 L254.85,298.40 L255.12,297.22 L255.39,296.24 L255.66,295.06 L255.93,294.14 L256.21,293.80 L256.48,294.52 L256.75,295.27 L257.02,295.78 L257.29,296.12 L257.57,296.44 L257.84,296.16 L258.11,296.33 L258.38,297.60 L258.65,298.09 L258.93,297.54 L259.20,297.37 L259.47,296.64 L259.74,295.15 L260.01,295.09 L260.28,295.01 L260.56,295.69 L260.83,296.95 L261.10,296.94 L261.37,297.58 L261.64,297.00 L261.92,297.19 L262.19,297.31 L262.46,297.00 L262.73,296.73 L263.00,296.38 L263.27,296.74 L263.55,296.75 L263.82,297.25 L264.09,296.06 L264.36,295.80 L264.63,296.30 L264.91,296.50 L265.18,297.19 L265.45,297.01 L265.72,296.31 L265.99,297.08 L266.27,295.89 L266.54,295.03 L266.81,295.36 L267.08,294.81 L267.35,296.11 L267.62,296.93 L267.90,298.29 L268.17,297.49 L268.44,298.15 L268.71,298.07 L268.98,296.00 L269.26,295.34 L269.53,295.33 L269.80,294.84 L270.07,295.09 L270.34,295.88 L270.62,294.76 L270.89,294.80 L271.16,295.58 L271.43,295.41 L271.70,295.96 L271.97,296.00 L272.25,296.77 L272.52,296.01 L272.79,296.21 L273.06,296.27 L273.33,296.04 L273.61,297.36 L273.88,297.39 L274.15,297.50 L274.42,297.39 L274.69,296.34 L274.97,296.37 L275.24,296.17 L275.51,295.46 L275.78,295.48 L276.05,295.32 L276.32,295.17 L276.60,295.12 L276.87,295.50 L277.14,294.23 L277.41,295.42 L277.68,294.64 L277.96,294.79 L278.23,295.91 L278.50,297.18 L278.77,297.50 L279.04,297.58 L279.32,298.63 L279.59,297.97 L279.86,297.58 L280.13,296.89 L280.40,297.09 L280.68,295.22 L280.95,296.14 L281.22,296.73 L281.49,295.78 L281.76,297.42 L282.03,297.83 L282.31,297.84 L282.58,297.33 L282.85,296.26 L283.12,296.12 L283.39,295.08 L283.67,295.60 L283.94,295.65 L284.21,294.63 L284.48,295.10 L284.75,295.74 L285.02,296.63 L285.30,297.07 L285.57,297.53 L285.84,296.63 L286.11,296.82 L286.38,295.69 L286.66,295.74 L286.93,296.48 L287.20,295.28 L287.47,296.00 L287.74,295.77 L288.02,296.04 L288.29,297.12 L288.56,298.29 L288.83,297.61 L289.10,296.64 L289.38,295.13 L289.65,293.84 L289.92,294.30 L290.19,294.57 L290.46,295.10 L290.73,295.71 L291.01,295.77 L291.28,294.94 L291.55,296.23 L291.82,296.79 L292.09,297.53 L292.37,298.17 L292.64,296.49 L292.91,296.07 L293.18,295.32 L293.45,295.72 L293.72,296.34 L294.00,296.32 L294.27,296.79 L294.54,296.82 L294.81,296.30 L295.08,294.81 L295.36,295.74 L295.63,295.45 L295.90,295.84 L296.17,296.63 L296.44,295.10 L296.72,295.00 L296.99,294.55 L297.26,295.63 L297.53,297.09 L297.80,296.30 L298.07,296.13 L298.35,296.39 L298.62,294.49 L298.89,294.85 L299.16,296.90 L299.43,295.95 L299.71,297.16 L299.98,296.69 L300.25,295.79 L300.52,296.66 L300.79,297.20 L301.07,297.75 L301.34,296.80 L301.61,296.72 L301.88,296.82 L302.15,295.55 L302.43,295.03 L302.70,294.29 L302.97,293.58 L303.24,295.38 L303.51,297.16 L303.78,297.22 L304.06,296.13 L304.33,296.11 L304.60,295.31 L304.87,295.90 L305.14,296.68 L305.42,296.03 L305.69,294.81 L305.96,295.06 L306.23,294.50 L306.50,294.16 L306.77,295.43 L307.05,295.21 L307.32,296.12 L307.59,295.90 L307.86,296.16 L308.13,296.58 L308.41,295.85 L308.68,297.00 L308.95,297.39 L309.22,297.20 L309.49,296.32 L309.77,295.98 L310.04,295.09 L310.31,295.71 L310.58,297.64 L310.85,296.57 L311.12,296.99 L311.40,297.04 L311.67,296.09 L311.94,296.84 L312.21,297.51 L312.48,297.21 L312.76,297.12 L313.03,297.94 L313.30,296.51 L313.57,295.58 L313.84,295.34 L314.12,295.28 L314.39,295.62 L314.66,296.60 L314.93,296.72 L315.20,296.21 L315.47,296.21 L315.75,295.18 L316.02,293.78 L316.29,294.47 L316.56,294.01 L316.83,294.15 L317.11,295.29 L317.38,294.98 L317.65,295.48 L317.92,295.49 L318.19,295.41 L318.47,294.94 L318.74,295.28 L319.01,295.31 L319.28,295.37 L319.55,295.70 L319.82,294.76 L320.10,293.96 L320.37,295.49 L320.64,295.02 L320.91,296.04 L321.18,298.01 L321.46,297.03 L321.73,296.90 L322.00,296.30 L322.27,296.27 L322.54,296.97 L322.82,297.53 L323.09,297.57 L323.36,297.44 L323.63,297.42 L323.90,296.31 L324.18,296.91 L324.45,296.64 L324.72,295.90 L324.99,297.32 L325.26,296.79 L325.53,296.74 L325.81,296.16 L326.08,296.39 L326.35,297.08 L326.62,295.94 L326.89,296.23 L327.17,295.08 L327.44,293.86 L327.71,294.46 L327.98,294.75 L328.25,296.13 L328.52,297.85 L328.80,297.62 L329.07,297.19 L329.34,295.81 L329.61,295.66 L329.88,297.22 L330.16,298.20 L330.43,299.05 L330.70,298.01 L330.97,297.32 L331.24,295.59 L331.52,295.43 L331.79,295.83 L332.06,294.82 L332.33,295.39 L332.60,295.84 L332.88,294.99 L333.15,294.38 L333.42,295.24 L333.69,294.81 L333.96,295.95 L334.23,297.83 L334.51,296.63 L334.78,296.04 L335.05,294.70 L335.32,293.44 L335.59,294.94 L335.87,295.46 L336.14,296.53 L336.41,297.69 L336.68,297.43 L336.95,296.82 L337.22,296.79 L337.50,294.92 L337.77,294.01 L338.04,295.54 L338.31,294.99 L338.58,295.46 L338.86,295.62 L339.13,295.26 L339.40,294.66 L339.67,296.24 L339.94,296.49 L340.22,296.81 L340.49,298.51 L340.76,298.64 L341.03,298.14 L341.30,296.66 L341.57,296.10 L341.85,296.10 L342.12,296.70 L342.39,297.17 L342.66,297.67 L342.93,297.49 L343.21,297.46 L343.48,297.11 L343.75,296.36 L344.02,295.52 L344.29,296.29 L344.57,298.24 L344.84,298.24 L345.11,298.84 L345.38,298.02 L345.65,296.96 L345.93,296.93 L346.20,296.72 L346.47,295.73 L346.74,295.37 L347.01,295.29 L347.28,294.47 L347.56,294.76 L347.83,294.46 L348.10,295.97 L348.37,296.69 L348.64,296.16 L348.92,296.10 L349.19,294.78 L349.46,294.17 L349.73,295.51 L350.00,296.16 L350.28,296.94 L350.55,296.53 L350.82,295.86 L351.09,294.40 L351.36,293.54 L351.63,293.13 L351.91,293.04 L352.18,294.70 L352.45,293.85 L352.72,294.70 L352.99,294.33 L353.27,293.58 L353.54,294.79 L353.81,295.12 L354.08,296.54 L354.35,297.26 L354.62,297.66 L354.90,297.92 L355.17,298.06 L355.44,297.48 L355.71,296.85 L355.98,295.40 L356.26,293.66 L356.53,293.66 L356.80,293.25 L357.07,294.42 L357.34,295.36 L357.62,295.65 L357.89,296.50 L358.16,296.35 L358.43,297.32 L358.70,297.18 L358.97,297.24 L359.25,297.91 L359.52,297.37 L359.79,297.26 L360.06,297.41 L360.33,296.48 L360.61,295.63 L360.88,295.02 L361.15,295.16 L361.42,295.38 L361.69,295.39 L361.97,295.40 L362.24,294.65 L362.51,294.26 L362.78,295.34 L363.05,296.60 L363.32,295.75 L363.60,296.41 L363.87,294.45 L364.14,294.41 L364.41,295.29 L364.68,295.99 L364.96,296.96 L365.23,296.49 L365.50,295.35 L365.77,294.37 L366.04,294.81 L366.32,295.67 L366.59,296.86 L366.86,296.55 L367.13,296.05 L367.40,294.74 L367.67,294.31 L367.95,295.02 L368.22,295.23 L368.49,295.66 L368.76,297.00 L369.03,295.85 L369.31,295.93 L369.58,296.41 L369.85,295.38 L370.12,296.32 L370.39,295.79 L370.67,294.25 L370.94,296.12 L371.21,296.01 L371.48,295.61 L371.75,296.76 L372.02,295.98 L372.30,295.97 L372.57,296.62 L372.84,295.93 L373.11,295.52 L373.38,295.96 L373.66,296.10 L373.93,295.72 L374.20,293.80 L374.47,293.25 L374.74,293.50 L375.02,295.27 L375.29,295.93 L375.56,296.16 L375.83,295.86 L376.10,295.07 L376.37,295.39 L376.65,296.36 L376.92,296.20 L377.19,295.59 L377.46,295.99 L377.73,294.31 L378.01,294.41 L378.28,294.45 L378.55,294.33 L378.82,295.97 L379.09,296.05 L379.37,295.87 L379.64,295.99 L379.91,295.59 L380.18,295.00 L380.45,294.76 L380.72,296.35 L381.00,296.83 L381.27,298.08 L381.54,298.48 L381.81,297.41 L382.08,296.34 L382.36,294.97 L382.63,295.29 L382.90,294.86 L383.17,294.91 L383.44,295.10 L383.72,294.46 L383.99,295.94 L384.26,296.27 L384.53,297.27 L384.80,298.13 L385.07,297.65 L385.35,297.63 L385.62,297.09 L385.89,296.52 L386.16,297.09 L386.43,296.85 L386.71,297.25 L386.98,297.89 L387.25,297.20 L387.52,296.26 L387.79,296.13 L388.07,296.06 L388.34,295.27 L388.61,295.25 L388.88,295.08 L389.15,294.57 L389.42,287.03 L389.70,272.14 L389.97,257.70 L390.24,242.94 L390.51,228.91 L390.78,217.70 L391.06,206.41 L391.33,207.60 L391.60,207.64 L391.87,206.53 L392.14,205.15 L392.42,204.91 L392.69,205.35 L392.96,205.49 L393.23,206.78 L393.50,205.42 L393.77,205.64 L394.05,205.26 L394.32,204.86 L394.59,206.81 L394.86,206.78 L395.13,207.93 L395.41,208.81 L395.68,208.37 L395.95,208.97 L396.22,209.17 L396.49,208.61 L396.77,208.97 L397.04,208.72 L397.31,207.66 L397.58,208.09 L397.85,207.73 L398.12,207.54 L398.40,208.03 L398.67,207.64 L398.94,209.36 L399.21,208.97 L399.48,209.56 L399.76,211.83 L400.03,211.54 L400.30,213.80 L400.57,214.02 L400.84,213.81 L401.12,214.31 L401.39,213.41 L401.66,213.41 L401.93,213.35 L402.20,212.90 L402.47,213.60 L402.75,213.75 L403.02,213.58 L403.29,213.76 L403.56,213.46 L403.83,214.64 L404.11,215.10 L404.38,215.24 L404.65,215.96 L404.92,215.33 L405.19,215.46 L405.47,215.65 L405.74,214.91 L406.01,215.08 L406.28,215.30 L406.55,215.30 L406.82,216.42 L407.10,217.44 L407.37,217.36 L407.64,218.10 L407.91,218.44 L408.18,217.10 L408.46,217.45 L408.73,217.55 L409.00,218.87 L409.27,220.18 L409.54,220.30 L409.82,220.01 L410.09,218.64 L410.36,217.66 L410.63,218.13 L410.90,218.78 L411.17,219.80 L411.45,220.21 L411.72,220.88 L411.99,220.10 L412.26,220.39 L412.53,221.25 L412.81,221.07 L413.08,222.64 L413.35,221.06 L413.62,220.68 L413.89,220.86 L414.17,219.95 L414.44,221.42 L414.71,222.23 L414.98,223.55 L415.25,223.07 L415.52,222.25 L415.80,220.08 L416.07,220.16 L416.34,220.54 L416.61,221.72 L416.88,222.54 L417.16,222.24 L417.43,222.26 L417.70,222.01 L417.97,222.28 L418.24,221.30 L418.52,221.99 L418.79,221.69 L419.06,222.50 L419.33,222.75 L419.60,224.12 L419.87,225.21 L420.15,225.60 L420.42,226.68 L420.69,224.69 L420.96,224.66 L421.23,224.33 L421.51,223.46 L421.78,224.83 L422.05,225.79 L422.32,224.96 L422.59,225.90 L422.87,226.32 L423.14,226.03 L423.41,227.54 L423.68,227.13 L423.95,225.48 L424.22,226.10 L424.50,224.85 L424.77,226.22 L425.04,226.44 L425.31,226.03 L425.58,226.94 L425.86,227.56 L426.13,228.16 L426.40,229.99 L426.67,230.26 L426.94,230.47 L427.22,229.82 L427.49,229.24 L427.76,230.31 L428.03,229.11 L428.30,229.72 L428.57,229.80 L428.85,227.35 L429.12,227.53 L429.39,227.63 L429.66,228.06 L429.93,230.97 L430.21,231.29 L430.48,230.80 L430.75,230.88 L431.02,230.19 L431.29,230.47 L431.57,232.23 L431.84,232.14 L432.11,231.04 L432.38,230.32 L432.65,229.25 L432.92,229.36 L433.20,229.33 L433.47,229.62 L433.74,230.22 L434.01,231.17 L434.28,232.17 L434.56,233.88 L434.83,234.29 L435.10,233.75 L435.37,233.14 L435.64,232.53 L435.92,232.13 L436.19,232.66 L436.46,232.56 L436.73,232.26 L437.00,231.83 L437.27,231.03 L437.55,231.72 L437.82,232.61 L438.09,232.42 L438.36,233.30 L438.63,232.99 L438.91,233.22 L439.18,233.63 L439.45,234.24 L439.72,235.28 L439.99,235.41 L440.27,236.23 L440.54,235.42 L440.81,235.17 L441.08,235.16 L441.35,235.14 L441.62,235.52 L441.90,235.71 L442.17,235.04 L442.44,235.89 L442.71,236.41 L442.98,236.51 L443.26,236.86 L443.53,236.23 L443.80,235.84 L444.07,235.78 L444.34,236.39 L444.62,237.03 L444.89,237.65 L445.16,237.76 L445.43,237.31 L445.70,236.51 L445.97,235.89 L446.25,235.66 L446.52,236.23 L446.79,237.12 L447.06,237.74 L447.33,237.72 L447.61,236.22 L447.88,235.58 L448.15,234.71 L448.42,233.96 L448.69,235.72 L448.97,235.38 L449.24,235.78 L449.51,235.97 L449.78,235.26 L450.05,235.64 L450.32,236.52 L450.60,237.49 L450.87,237.45 L451.14,237.33 L451.41,237.15 L451.68,236.57 L451.96,236.71 L452.23,238.25 L452.50,237.82 L452.77,238.01 L453.04,238.62 L453.32,238.05 L453.59,238.61 L453.86,239.70 L454.13,239.30 L454.40,240.01 L454.67,240.25 L454.95,240.84 L455.22,240.94 L455.49,240.59 L455.76,240.47 L456.03,239.34 L456.31,240.48 L456.58,240.69 L456.85,240.21 L457.12,240.42 L457.39,239.97 L457.67,240.20 L457.94,240.30 L458.21,240.10 L458.48,239.71 L458.75,239.70 L459.02,240.07 L459.30,240.41 L459.57,240.10 L459.84,240.68 L460.11,239.98 L460.38,240.37 L460.66,241.19 L460.93,241.58 L461.20,240.99 L461.47,242.41 L461.74,242.25 L462.02,241.89 L462.29,242.44 L462.56,241.72 L462.83,242.25 L463.10,241.80 L463.37,242.18 L463.65,242.15 L463.92,241.88 L464.19,241.97 L464.46,241.74 L464.73,241.86 L465.01,242.40 L465.28,242.90 L465.55,244.09 L465.82,243.80 L466.09,243.62 L466.37,242.57 L466.64,242.02 L466.91,241.98 L467.18,241.69 L467.45,242.40 L467.72,242.48 L468.00,242.69 L468.27,243.77 L468.54,244.33 L468.81,243.78 L469.08,243.99 L469.36,243.57 L469.63,243.75 L469.90,244.46 L470.17,244.15 L470.44,245.09 L470.72,244.81 L470.99,244.39 L471.26,244.40 L471.53,242.89 L471.80,242.65 L472.07,242.99 L472.35,244.23 L472.62,244.93 L472.89,244.74 L473.16,245.17 L473.43,244.18 L473.71,244.31 L473.98,244.20 L474.25,244.47 L474.52,244.95 L474.79,245.56 L475.07,245.36 L475.34,245.26 L475.61,386.01 L475.88,386.62 L476.15,387.50 L476.42,384.06 L476.70,384.36 L476.97,381.64 L477.24,380.85 L477.51,380.18 L477.78,380.10 L478.06,382.85 L478.33,383.20 L478.60,385.11 L478.87,385.68 L479.14,384.69 L479.42,384.95 L479.69,383.23 L479.96,383.54 L480.23,382.53 L480.50,382.26 L480.78,382.36 L481.05,380.67 L481.32,381.78 L481.59,381.20 L481.86,381.73 L482.13,382.20 L482.41,381.38 L482.68,382.04 L482.95,381.03 L483.22,380.80 L483.49,380.59 L483.77,380.64 L484.04,381.19 L484.31,381.41 L484.58,383.04 L484.85,383.31 L485.12,383.03 L485.40,383.22 L485.67,381.28 L485.94,379.87 L486.21,379.90 L486.48,379.89 L486.76,381.79 L487.03,382.97 L487.30,383.10 L487.57,383.61 L487.84,382.72 L488.12,382.14 L488.39,382.64 L488.66,382.93 L488.93,384.24 L489.20,383.85 L489.47,383.95 L489.75,384.54 L490.02,382.95 L490.29,383.62 L490.56,382.61 L490.83,381.79 L491.11,381.17 L491.38,380.56 L491.65,381.06 L491.92,380.77 L492.19,382.16 L492.47,382.02 L492.74,380.86 L493.01,381.22 L493.28,381.79 L493.55,381.99 L493.82,382.66" stroke="#57fcfc" stroke-width="4.6" fill="none" stroke-linejoin="round" stroke-linecap="round"/>
<path d="M113.20,378.77 L113.47,379.57 L113.74,379.31 L114.02,379.28 L114.29,379.23 L114.56,378.90 L114.83,380.29 L115.10,379.98 L115.38,380.39 L115.65,379.43 L115.92,378.54 L116.19,379.19 L116.46,379.71 L116.73,379.73 L117.01,379.40 L117.28,379.69 L117.55,379.47 L117.82,367.28 L118.09,358.96 L118.37,359.26 L118.64,358.32 L118.91,359.56 L119.18,359.60 L119.45,360.00 L119.73,361.50 L120.00,361.54 L120.27,362.58 L120.54,363.28 L120.81,363.23 L121.08,362.65 L121.36,361.73 L121.63,359.63 L121.90,358.89 L122.17,358.95 L122.44,359.28 L122.72,360.53 L122.99,360.97 L123.26,362.35 L123.53,362.30 L123.80,362.27 L124.08,362.29 L124.35,362.09 L124.62,362.68 L124.89,362.08 L125.16,362.46 L125.43,362.39 L125.71,361.88 L125.98,362.12 L126.25,362.08 L126.52,362.40 L126.79,359.82 L127.07,330.51 L127.34,314.79 L127.61,314.25 L127.88,313.45 L128.15,312.16 L128.43,312.73 L128.70,312.52 L128.97,312.96 L129.24,314.74 L129.51,315.09 L129.78,315.54 L130.06,315.20 L130.33,314.95 L130.60,315.62 L130.87,314.60 L131.14,315.81 L131.42,315.34 L131.69,314.72 L131.96,316.13 L132.23,315.84 L132.50,317.52 L132.78,318.02 L133.05,318.28 L133.32,317.83 L133.59,316.97 L133.86,318.21 L134.13,318.27 L134.41,319.60 L134.68,319.95 L134.95,319.40 L135.22,319.30 L135.49,319.45 L135.77,319.03 L136.04,319.77 L136.31,320.12 L136.58,320.33 L136.85,320.87 L137.12,321.05 L137.40,321.02 L137.67,320.83 L137.94,320.85 L138.21,320.97 L138.48,320.97 L138.76,321.75 L139.03,321.32 L139.30,320.85 L139.57,321.05 L139.84,320.59 L140.12,320.55 L140.39,321.35 L140.66,320.71 L140.93,320.29 L141.20,321.01 L141.47,321.46 L141.75,321.65 L142.02,321.22 L142.29,320.42 L142.56,320.37 L142.83,320.49 L143.11,320.90 L143.38,320.86 L143.65,320.04 L143.92,320.31 L144.19,319.67 L144.47,319.61 L144.74,319.74 L145.01,319.29 L145.28,318.65 L145.55,317.15 L145.82,316.19 L146.10,316.36 L146.37,316.91 L146.64,317.16 L146.91,316.96 L147.18,317.33 L147.46,317.37 L147.73,318.33 L148.00,318.20 L148.27,316.77 L148.54,316.85 L148.82,315.25 L149.09,315.65 L149.36,314.77 L149.63,314.44 L149.90,315.75 L150.18,314.66 L150.45,316.41 L150.72,316.55 L150.99,315.47 L151.26,316.48 L151.53,315.81 L151.81,316.23 L152.08,315.83 L152.35,315.17 L152.62,315.24 L152.89,313.90 L153.17,315.12 L153.44,315.92 L153.71,317.06 L153.98,317.02 L154.25,315.82 L154.53,314.95 L154.80,313.53 L155.07,313.22 L155.34,314.34 L155.61,315.34 L155.88,315.55 L156.16,315.49 L156.43,314.40 L156.70,313.59 L156.97,314.13 L157.24,313.74 L157.52,314.44 L157.79,315.20 L158.06,314.90 L158.33,315.69 L158.60,315.81 L158.88,315.22 L159.15,314.24 L159.42,312.26 L159.69,310.68 L159.96,310.55 L160.23,310.48 L160.51,311.71 L160.78,312.31 L161.05,312.31 L161.32,313.08 L161.59,313.96 L161.87,313.18 L162.14,313.23 L162.41,312.86 L162.68,312.12 L162.95,312.80 L163.22,312.87 L163.50,313.25 L163.77,312.65 L164.04,312.27 L164.31,312.53 L164.58,311.61 L164.86,312.73 L165.13,312.77 L165.40,311.25 L165.67,311.87 L165.94,311.47 L166.22,312.02 L166.49,311.93 L166.76,310.99 L167.03,309.80 L167.30,309.45 L167.57,308.65 L167.85,309.72 L168.12,309.32 L168.39,309.49 L168.66,310.08 L168.93,309.43 L169.21,310.23 L169.48,310.65 L169.75,311.06 L170.02,309.99 L170.29,310.06 L170.57,309.36 L170.84,309.71 L171.11,310.51 L171.38,310.70 L171.65,310.71 L171.93,310.55 L172.20,310.26 L172.47,309.61 L172.74,309.90 L173.01,310.24 L173.28,310.99 L173.56,310.96 L173.83,309.98 L174.10,309.73 L174.37,308.40 L174.64,308.86 L174.92,308.70 L175.19,307.83 L175.46,307.89 L175.73,307.61 L176.00,308.07 L176.28,309.43 L176.55,311.25 L176.82,311.49 L177.09,311.25 L177.36,309.82 L177.63,308.86 L177.91,307.81 L178.18,307.69 L178.45,307.61 L178.72,308.43 L178.99,309.57 L179.27,310.44 L179.54,312.00 L179.81,309.83 L180.08,309.94 L180.35,309.85 L180.62,309.42 L180.90,309.82 L181.17,309.59 L181.44,308.65 L181.71,307.83 L181.98,308.56 L182.26,309.53 L182.53,310.57 L182.80,311.50 L183.07,310.33 L183.34,309.44 L183.62,309.14 L183.89,308.31 L184.16,309.09 L184.43,309.13 L184.70,307.96 L184.97,307.85 L185.25,307.36 L185.52,307.26 L185.79,308.22 L186.06,309.78 L186.33,309.70 L186.61,309.28 L186.88,309.27 L187.15,308.10 L187.42,306.45 L187.69,307.19 L187.97,307.55 L188.24,307.16 L188.51,309.45 L188.78,309.04 L189.05,307.96 L189.32,308.28 L189.60,307.48 L189.87,306.88 L190.14,306.66 L190.41,306.93 L190.68,308.69 L190.96,308.17 L191.23,309.77 L191.50,309.09 L191.77,307.81 L192.04,309.38 L192.32,308.31 L192.59,308.38 L192.86,309.09 L193.13,308.12 L193.40,308.66 L193.68,309.62 L193.95,309.34 L194.22,308.66 L194.49,308.06 L194.76,307.68 L195.03,307.53 L195.31,308.19 L195.58,308.46 L195.85,308.32 L196.12,309.01 L196.39,308.54 L196.67,309.31 L196.94,310.63 L197.21,309.06 L197.48,310.14 L197.75,309.90 L198.02,308.39 L198.30,309.29 L198.57,307.99 L198.84,308.12 L199.11,308.21 L199.38,308.37 L199.66,308.87 L199.93,309.40 L200.20,309.05 L200.47,307.78 L200.74,307.18 L201.02,306.30 L201.29,306.71 L201.56,306.69 L201.83,306.62 L202.10,305.58 L202.38,306.23 L202.65,306.72 L202.92,307.66 L203.19,308.19 L203.46,307.50 L203.73,307.66 L204.01,306.44 L204.28,306.47 L204.55,306.94 L204.82,306.81 L205.09,307.23 L205.37,308.35 L205.64,306.90 L205.91,306.81 L206.18,308.25 L206.45,308.37 L206.72,308.14 L207.00,307.57 L207.27,307.06 L207.54,306.12 L207.81,307.15 L208.08,307.84 L208.36,307.41 L208.63,308.80 L208.90,308.37 L209.17,308.73 L209.44,310.33 L209.72,309.94 L209.99,310.67 L210.26,310.70 L210.53,309.72 L210.80,309.52 L211.07,310.41 L211.35,309.31 L211.62,308.66 L211.89,308.26 L212.16,307.09 L212.43,307.60 L212.71,307.87 L212.98,308.80 L213.25,309.43 L213.52,309.40 L213.79,308.61 L214.07,307.76 L214.34,306.09 L214.61,306.87 L214.88,307.56 L215.15,308.31 L215.43,308.43 L215.70,306.62 L215.97,306.48 L216.24,305.57 L216.51,306.51 L216.78,308.22 L217.06,308.17 L217.33,309.15 L217.60,308.27 L217.87,307.35 L218.14,306.65 L218.42,306.10 L218.69,308.20 L218.96,308.00 L219.23,308.49 L219.50,310.03 L219.78,308.62 L220.05,308.43 L220.32,307.51 L220.59,306.90 L220.86,306.80 L221.13,307.05 L221.41,308.14 L221.68,307.67 L221.95,307.78 L222.22,307.67 L222.49,307.20 L222.77,307.34 L223.04,308.35 L223.31,307.82 L223.58,307.26 L223.85,307.34 L224.12,306.73 L224.40,307.06 L224.67,308.82 L224.94,308.19 L225.21,306.63 L225.48,306.98 L225.76,306.41 L226.03,305.54 L226.30,306.99 L226.57,306.99 L226.84,306.78 L227.12,307.74 L227.39,308.70 L227.66,309.60 L227.93,310.40 L228.20,309.80 L228.47,308.94 L228.75,307.42 L229.02,307.65 L229.29,308.50 L229.56,307.83 L229.83,308.84 L230.11,308.83 L230.38,308.85 L230.65,309.79 L230.92,309.25 L231.19,307.32 L231.47,306.26 L231.74,305.44 L232.01,305.16 L232.28,306.07 L232.55,307.06 L232.82,308.79 L233.10,308.30 L233.37,307.20 L233.64,306.78 L233.91,306.42 L234.18,306.69 L234.46,307.02 L234.73,306.82 L235.00,307.14 L235.27,307.45 L235.54,308.21 L235.82,307.98 L236.09,307.12 L236.36,306.86 L236.63,306.86 L236.90,306.44 L237.18,306.42 L237.45,305.94 L237.72,305.29 L237.99,305.82 L238.26,306.02 L238.53,307.35 L238.81,308.64 L239.08,309.59 L239.35,309.57 L239.62,308.60 L239.89,307.56 L240.17,307.22 L240.44,306.60 L240.71,307.66 L240.98,308.95 L241.25,309.83 L241.52,311.05 L241.80,310.49 L242.07,309.05 L242.34,308.37 L242.61,307.74 L242.88,307.95 L243.16,308.78 L243.43,308.96 L243.70,308.86 L243.97,308.23 L244.24,308.58 L244.52,309.02 L244.79,309.45 L245.06,308.69 L245.33,308.47 L245.60,308.85 L245.88,308.64 L246.15,309.51 L246.42,309.15 L246.69,308.43 L246.96,308.28 L247.23,309.51 L247.51,309.12 L247.78,308.59 L248.05,308.34 L248.32,306.55 L248.59,306.46 L248.87,307.40 L249.14,307.00 L249.41,307.28 L249.68,307.76 L249.95,306.51 L250.22,306.58 L250.50,307.16 L250.77,308.07 L251.04,308.80 L251.31,309.86 L251.58,310.23 L251.86,309.00 L252.13,309.43 L252.40,308.68 L252.67,307.01 L252.94,307.60 L253.22,306.49 L253.49,307.04 L253.76,308.03 L254.03,307.61 L254.30,307.42 L254.57,307.55 L254.85,307.44 L255.12,307.81 L255.39,308.36 L255.66,308.19 L255.93,307.93 L256.21,308.34 L256.48,309.11 L256.75,308.10 L257.02,308.64 L257.29,306.89 L257.57,306.65 L257.84,307.39 L258.11,307.13 L258.38,307.04 L258.65,306.51 L258.93,306.99 L259.20,307.05 L259.47,308.28 L259.74,308.60 L260.01,307.74 L260.28,309.06 L260.56,309.48 L260.83,308.19 L261.10,308.76 L261.37,307.81 L261.64,307.09 L261.92,307.25 L262.19,306.66 L262.46,306.82 L262.73,307.50 L263.00,307.64 L263.27,308.15 L263.55,308.00 L263.82,307.06 L264.09,306.97 L264.36,305.92 L264.63,305.99 L264.91,306.74 L265.18,307.78 L265.45,308.75 L265.72,308.20 L265.99,307.10 L266.27,308.01 L266.54,307.81 L266.81,307.89 L267.08,308.74 L267.35,306.87 L267.62,307.35 L267.90,307.60 L268.17,306.67 L268.44,306.63 L268.71,307.07 L268.98,306.58 L269.26,308.26 L269.53,309.07 L269.80,308.95 L270.07,308.58 L270.34,307.92 L270.62,307.92 L270.89,308.59 L271.16,309.69 L271.43,308.98 L271.70,308.49 L271.97,308.22 L272.25,306.50 L272.52,307.19 L272.79,307.59 L273.06,307.66 L273.33,307.71 L273.61,307.74 L273.88,306.60 L274.15,306.10 L274.42,307.05 L274.69,307.45 L274.97,308.81 L275.24,308.90 L275.51,308.39 L275.78,307.57 L276.05,306.84 L276.32,307.70 L276.60,307.90 L276.87,308.68 L277.14,308.76 L277.41,308.56 L277.68,308.72 L277.96,308.61 L278.23,309.40 L278.50,308.78 L278.77,307.56 L279.04,307.37 L279.32,307.84 L279.59,308.07 L279.86,308.56 L280.13,308.04 L280.40,307.28 L280.68,306.00 L280.95,305.72 L281.22,306.00 L281.49,305.61 L281.76,307.27 L282.03,308.01 L282.31,308.63 L282.58,309.32 L282.85,307.78 L283.12,308.02 L283.39,306.56 L283.67,307.38 L283.94,307.45 L284.21,307.99 L284.48,309.25 L284.75,308.05 L285.02,308.78 L285.30,307.67 L285.57,307.08 L285.84,307.53 L286.11,307.39 L286.38,307.97 L286.66,308.09 L286.93,308.15 L287.20,308.55 L287.47,307.69 L287.74,306.64 L288.02,307.56 L288.29,307.47 L288.56,308.05 L288.83,308.82 L289.10,307.83 L289.38,307.88 L289.65,307.55 L289.92,307.56 L290.19,307.85 L290.46,306.68 L290.73,306.57 L291.01,307.69 L291.28,308.66 L291.55,309.18 L291.82,309.48 L292.09,309.12 L292.37,309.15 L292.64,309.55 L292.91,309.60 L293.18,309.64 L293.45,308.81 L293.72,308.22 L294.00,307.60 L294.27,306.99 L294.54,306.83 L294.81,308.08 L295.08,307.93 L295.36,307.38 L295.63,306.89 L295.90,305.48 L296.17,305.78 L296.44,306.57 L296.72,307.22 L296.99,306.87 L297.26,307.02 L297.53,306.01 L297.80,305.53 L298.07,306.34 L298.35,306.17 L298.62,308.17 L298.89,309.05 L299.16,308.98 L299.43,307.76 L299.71,307.35 L299.98,306.24 L300.25,306.35 L300.52,307.80 L300.79,307.07 L301.07,308.65 L301.34,308.26 L301.61,307.03 L301.88,307.22 L302.15,306.01 L302.43,306.13 L302.70,306.90 L302.97,307.26 L303.24,307.02 L303.51,306.81 L303.78,307.59 L304.06,307.29 L304.33,307.36 L304.60,307.32 L304.87,307.56 L305.14,308.07 L305.42,308.29 L305.69,307.99 L305.96,307.30 L306.23,308.04 L306.50,308.47 L306.77,308.29 L307.05,308.03 L307.32,307.97 L307.59,307.86 L307.86,308.97 L308.13,308.20 L308.41,306.51 L308.68,306.26 L308.95,306.51 L309.22,306.31 L309.49,307.74 L309.77,306.72 L310.04,306.42 L310.31,307.35 L310.58,306.06 L310.85,306.45 L311.12,306.86 L311.40,307.76 L311.67,308.47 L311.94,308.51 L312.21,307.54 L312.48,308.18 L312.76,307.57 L313.03,307.52 L313.30,307.36 L313.57,305.38 L313.84,305.96 L314.12,305.97 L314.39,306.49 L314.66,307.12 L314.93,307.25 L315.20,307.46 L315.47,307.94 L315.75,308.37 L316.02,309.04 L316.29,308.64 L316.56,308.00 L316.83,307.00 L317.11,306.89 L317.38,306.68 L317.65,307.32 L317.92,308.76 L318.19,307.13 L318.47,308.58 L318.74,307.16 L319.01,305.71 L319.28,306.69 L319.55,307.14 L319.82,308.33 L320.10,307.84 L320.37,306.79 L320.64,305.53 L320.91,306.06 L321.18,307.10 L321.46,308.09 L321.73,308.09 L322.00,307.32 L322.27,306.77 L322.54,307.73 L322.82,308.48 L323.09,307.71 L323.36,308.91 L323.63,307.65 L323.90,306.09 L324.18,306.64 L324.45,306.67 L324.72,306.44 L324.99,308.92 L325.26,308.98 L325.53,308.50 L325.81,308.54 L326.08,306.95 L326.35,306.97 L326.62,305.92 L326.89,306.05 L327.17,306.99 L327.44,307.50 L327.71,307.15 L327.98,307.97 L328.25,307.40 L328.52,306.92 L328.80,308.48 L329.07,309.15 L329.34,309.34 L329.61,309.17 L329.88,308.45 L330.16,307.81 L330.43,308.53 L330.70,309.14 L330.97,309.73 L331.24,309.24 L331.52,307.95 L331.79,307.54 L332.06,307.18 L332.33,307.17 L332.60,306.43 L332.88,306.24 L333.15,306.50 L333.42,306.33 L333.69,306.60 L333.96,307.27 L334.23,307.72 L334.51,308.08 L334.78,309.94 L335.05,308.77 L335.32,307.87 L335.59,307.66 L335.87,304.70 L336.14,304.90 L336.41,304.26 L336.68,303.41 L336.95,304.59 L337.22,306.27 L337.50,306.41 L337.77,306.95 L338.04,308.01 L338.31,306.97 L338.58,307.24 L338.86,307.08 L339.13,306.44 L339.40,306.89 L339.67,306.90 L339.94,307.82 L340.22,307.99 L340.49,307.33 L340.76,308.26 L341.03,307.45 L341.30,308.71 L341.57,309.66 L341.85,309.57 L342.12,309.72 L342.39,308.31 L342.66,307.62 L342.93,306.31 L343.21,306.30 L343.48,306.82 L343.75,306.69 L344.02,307.09 L344.29,307.03 L344.57,306.48 L344.84,307.25 L345.11,306.64 L345.38,307.35 L345.65,308.02 L345.93,308.45 L346.20,309.30 L346.47,307.65 L346.74,307.31 L347.01,305.58 L347.28,306.11 L347.56,307.77 L347.83,307.75 L348.10,307.77 L348.37,306.33 L348.64,306.70 L348.92,306.87 L349.19,307.37 L349.46,307.95 L349.73,306.80 L350.00,307.27 L350.28,308.17 L350.55,308.84 L350.82,309.93 L351.09,310.48 L351.36,309.27 L351.63,307.88 L351.91,307.56 L352.18,307.40 L352.45,307.97 L352.72,309.80 L352.99,309.36 L353.27,309.33 L353.54,308.92 L353.81,308.51 L354.08,308.26 L354.35,308.51 L354.62,308.14 L354.90,308.10 L355.17,308.12 L355.44,307.78 L355.71,307.76 L355.98,307.13 L356.26,307.58 L356.53,306.08 L356.80,306.34 L357.07,306.98 L357.34,306.54 L357.62,307.91 L357.89,308.47 L358.16,308.14 L358.43,308.38 L358.70,306.80 L358.97,307.32 L359.25,307.38 L359.52,306.73 L359.79,307.72 L360.06,306.46 L360.33,305.51 L360.61,306.89 L360.88,306.70 L361.15,306.52 L361.42,307.74 L361.69,308.03 L361.97,308.39 L362.24,308.95 L362.51,308.50 L362.78,306.61 L363.05,305.33 L363.32,306.20 L363.60,305.49 L363.87,306.06 L364.14,305.96 L364.41,305.10 L364.68,305.98 L364.96,306.57 L365.23,306.66 L365.50,306.43 L365.77,305.35 L366.04,304.93 L366.32,306.31 L366.59,307.36 L366.86,307.38 L367.13,308.56 L367.40,308.24 L367.67,307.91 L367.95,309.29 L368.22,308.64 L368.49,308.21 L368.76,306.75 L369.03,306.17 L369.31,306.11 L369.58,305.92 L369.85,306.83 L370.12,307.54 L370.39,307.62 L370.67,308.82 L370.94,308.93 L371.21,308.35 L371.48,307.22 L371.75,306.86 L372.02,306.05 L372.30,305.87 L372.57,306.76 L372.84,306.48 L373.11,307.98 L373.38,309.04 L373.66,308.59 L373.93,308.72 L374.20,309.01 L374.47,307.96 L374.74,308.40 L375.02,308.36 L375.29,308.36 L375.56,308.96 L375.83,308.15 L376.10,307.28 L376.37,307.64 L376.65,307.23 L376.92,307.15 L377.19,307.99 L377.46,306.31 L377.73,305.98 L378.01,306.36 L378.28,307.41 L378.55,307.67 L378.82,307.82 L379.09,307.79 L379.37,306.31 L379.64,306.32 L379.91,306.62 L380.18,306.53 L380.45,306.71 L380.72,307.64 L381.00,307.74 L381.27,308.22 L381.54,308.15 L381.81,308.81 L382.08,309.22 L382.36,308.80 L382.63,309.07 L382.90,306.28 L383.17,305.80 L383.44,306.41 L383.72,306.72 L383.99,307.94 L384.26,306.40 L384.53,305.25 L384.80,305.35 L385.07,304.85 L385.35,306.40 L385.62,307.11 L385.89,306.49 L386.16,306.73 L386.43,306.52 L386.71,305.86 L386.98,305.93 L387.25,306.26 L387.52,305.95 L387.79,307.52 L388.07,307.10 L388.34,307.00 L388.61,306.60 L388.88,305.10 L389.15,305.95 L389.42,299.15 L389.70,287.51 L389.97,276.36 L390.24,264.08 L390.51,251.39 L390.78,248.41 L391.06,249.75 L391.33,250.05 L391.60,251.81 L391.87,252.30 L392.14,251.95 L392.42,251.38 L392.69,250.23 L392.96,250.46 L393.23,249.72 L393.50,250.08 L393.77,251.03 L394.05,251.44 L394.32,251.92 L394.59,251.41 L394.86,250.93 L395.13,250.55 L395.41,251.05 L395.68,251.81 L395.95,251.78 L396.22,251.53 L396.49,251.98 L396.77,252.73 L397.04,253.35 L397.31,253.34 L397.58,253.61 L397.85,253.25 L398.12,252.84 L398.40,252.68 L398.67,253.96 L398.94,254.74 L399.21,255.73 L399.48,256.72 L399.76,254.75 L400.03,253.25 L400.30,251.74 L400.57,250.99 L400.84,251.51 L401.12,253.28 L401.39,254.12 L401.66,256.41 L401.93,256.45 L402.20,256.14 L402.47,256.04 L402.75,255.70 L403.02,257.13 L403.29,257.75 L403.56,258.32 L403.83,257.71 L404.11,257.57 L404.38,257.09 L404.65,256.87 L404.92,257.79 L405.19,257.94 L405.47,259.25 L405.74,260.21 L406.01,259.28 L406.28,259.77 L406.55,258.14 L406.82,257.59 L407.10,257.70 L407.37,257.36 L407.64,258.02 L407.91,258.01 L408.18,258.56 L408.46,259.04 L408.73,259.94 L409.00,259.73 L409.27,260.20 L409.54,260.29 L409.82,260.57 L410.09,262.69 L410.36,263.02 L410.63,262.74 L410.90,262.69 L411.17,262.37 L411.45,261.94 L411.72,262.00 L411.99,261.95 L412.26,261.50 L412.53,262.25 L412.81,262.23 L413.08,262.60 L413.35,262.95 L413.62,262.15 L413.89,263.03 L414.17,263.33 L414.44,262.14 L414.71,261.58 L414.98,262.38 L415.25,261.75 L415.52,263.80 L415.80,264.42 L416.07,264.26 L416.34,264.00 L416.61,263.05 L416.88,262.31 L417.16,261.02 L417.43,261.76 L417.70,261.76 L417.97,263.03 L418.24,263.93 L418.52,264.10 L418.79,265.85 L419.06,265.28 L419.33,266.70 L419.60,266.75 L419.87,265.55 L420.15,265.96 L420.42,266.29 L420.69,266.54 L420.96,266.57 L421.23,266.11 L421.51,264.49 L421.78,265.33 L422.05,265.47 L422.32,266.47 L422.59,267.15 L422.87,267.14 L423.14,267.57 L423.41,267.01 L423.68,268.07 L423.95,267.43 L424.22,268.07 L424.50,267.90 L424.77,268.47 L425.04,268.77 L425.31,268.55 L425.58,269.35 L425.86,267.59 L426.13,266.95 L426.40,267.14 L426.67,266.79 L426.94,267.82 L427.22,267.50 L427.49,267.26 L427.76,267.35 L428.03,268.45 L428.30,269.27 L428.57,269.29 L428.85,270.39 L429.12,269.33 L429.39,267.57 L429.66,266.77 L429.93,266.19 L430.21,266.61 L430.48,268.00 L430.75,269.47 L431.02,269.29 L431.29,270.19 L431.57,269.68 L431.84,269.01 L432.11,269.02 L432.38,268.38 L432.65,268.60 L432.92,268.98 L433.20,270.50 L433.47,270.82 L433.74,270.67 L434.01,270.15 L434.28,268.66 L434.56,269.24 L434.83,270.10 L435.10,270.34 L435.37,271.73 L435.64,269.64 L435.92,269.15 L436.19,270.60 L436.46,270.71 L436.73,271.25 L437.00,272.47 L437.27,271.70 L437.55,272.30 L437.82,272.49 L438.09,271.88 L438.36,272.66 L438.63,273.15 L438.91,274.66 L439.18,275.92 L439.45,275.58 L439.72,273.30 L439.99,272.91 L440.27,271.89 L440.54,272.28 L440.81,273.28 L441.08,273.35 L441.35,273.73 L441.62,272.29 L441.90,272.41 L442.17,272.55 L442.44,271.37 L442.71,272.30 L442.98,272.22 L443.26,271.49 L443.53,271.86 L443.80,271.70 L444.07,272.24 L444.34,271.99 L444.62,273.09 L444.89,273.57 L445.16,272.49 L445.43,273.69 L445.70,273.89 L445.97,274.18 L446.25,275.57 L446.52,274.34 L446.79,274.80 L447.06,273.15 L447.33,272.33 L447.61,273.40 L447.88,272.65 L448.15,274.22 L448.42,274.90 L448.69,274.25 L448.97,274.00 L449.24,273.44 L449.51,272.68 L449.78,273.36 L450.05,273.82 L450.32,274.27 L450.60,275.14 L450.87,275.21 L451.14,275.60 L451.41,275.25 L451.68,275.68 L451.96,275.96 L452.23,276.23 L452.50,277.24 L452.77,277.27 L453.04,277.42 L453.32,277.38 L453.59,277.64 L453.86,277.47 L454.13,277.72 L454.40,278.11 L454.67,277.23 L454.95,276.37 L455.22,275.55 L455.49,275.48 L455.76,276.04 L456.03,276.04 L456.31,277.37 L456.58,276.55 L456.85,277.15 L457.12,278.46 L457.39,277.79 L457.67,278.23 L457.94,276.54 L458.21,275.94 L458.48,275.93 L458.75,275.37 L459.02,276.36 L459.30,277.05 L459.57,276.39 L459.84,276.17 L460.11,275.42 L460.38,275.68 L460.66,275.42 L460.93,276.67 L461.20,277.05 L461.47,275.73 L461.74,275.75 L462.02,276.62 L462.29,277.81 L462.56,277.70 L462.83,278.80 L463.10,277.96 L463.37,279.15 L463.65,279.65 L463.92,280.16 L464.19,281.48 L464.46,278.73 L464.73,280.52 L465.01,280.72 L465.28,279.51 L465.55,280.93 L465.82,279.32 L466.09,279.34 L466.37,279.98 L466.64,280.51 L466.91,282.39 L467.18,282.90 L467.45,281.38 L467.72,281.61 L468.00,280.68 L468.27,279.15 L468.54,279.56 L468.81,279.19 L469.08,278.65 L469.36,280.22 L469.63,281.39 L469.90,280.93 L470.17,281.26 L470.44,280.11 L470.72,279.82 L470.99,280.65 L471.26,280.34 L471.53,281.38 L471.80,281.66 L472.07,281.91 L472.35,281.98 L472.62,281.60 L472.89,280.58 L473.16,280.30 L473.43,281.55 L473.71,281.29 L473.98,281.05 L474.25,281.32 L474.52,280.70 L474.79,280.85 L475.07,283.85 L475.34,283.88 L475.61,389.16 L475.88,389.90 L476.15,387.70 L476.42,385.44 L476.70,386.42 L476.97,386.00 L477.24,386.05 L477.51,384.40 L477.78,382.64 L478.06,382.20 L478.33,382.80 L478.60,383.83 L478.87,384.00 L479.14,384.36 L479.42,383.87 L479.69,382.99 L479.96,383.92 L480.23,383.90 L480.50,383.84 L480.78,384.38 L481.05,383.87 L481.32,384.11 L481.59,384.54 L481.86,383.37 L482.13,382.60 L482.41,383.11 L482.68,382.96 L482.95,384.12 L483.22,384.77 L483.49,384.65 L483.77,384.72 L484.04,384.59 L484.31,384.95 L484.58,384.04 L484.85,385.43 L485.12,386.42 L485.40,385.93 L485.67,386.00 L485.94,384.76 L486.21,384.26 L486.48,384.22 L486.76,383.74 L487.03,382.96 L487.30,382.89 L487.57,383.23 L487.84,383.22 L488.12,383.15 L488.39,382.42 L488.66,382.36 L488.93,383.49 L489.20,383.59 L489.47,384.57 L489.75,383.69 L490.02,382.64 L490.29,383.94 L490.56,383.24 L490.83,383.20 L491.11,383.25 L491.38,382.26 L491.65,383.16 L491.92,383.31 L492.19,383.45 L492.47,383.15 L492.74,383.47 L493.01,384.73 L493.28,385.23 L493.55,385.80 L493.82,385.58" stroke="#2a92ff" stroke-width="4.6" fill="none" stroke-linejoin="round" stroke-linecap="round"/>
<path d="M113.20,376.01 L113.47,375.19 L113.74,375.92 L114.02,375.73 L114.29,376.67 L114.56,377.58 L114.83,377.46 L115.10,378.45 L115.38,378.82 L115.65,378.63 L115.92,377.60 L116.19,377.70 L116.46,376.65 L116.73,376.30 L117.01,378.22 L117.28,378.67 L117.55,378.36 L117.82,367.21 L118.09,359.08 L118.37,359.59 L118.64,361.23 L118.91,361.40 L119.18,361.81 L119.45,362.53 L119.73,363.37 L120.00,363.29 L120.27,363.09 L120.54,362.35 L120.81,361.90 L121.08,363.51 L121.36,364.79 L121.63,365.02 L121.90,364.44 L122.17,362.63 L122.44,361.56 L122.72,362.73 L122.99,363.40 L123.26,363.69 L123.53,363.12 L123.80,362.20 L124.08,362.15 L124.35,362.82 L124.62,363.17 L124.89,362.27 L125.16,363.03 L125.43,361.89 L125.71,362.95 L125.98,364.40 L126.25,364.21 L126.52,365.36 L126.79,361.29 L127.07,338.79 L127.34,328.73 L127.61,328.94 L127.88,329.94 L128.15,331.18 L128.43,330.90 L128.70,331.49 L128.97,331.73 L129.24,332.41 L129.51,333.22 L129.78,332.50 L130.06,333.16 L130.33,333.63 L130.60,331.87 L130.87,331.60 L131.14,330.10 L131.42,329.15 L131.69,330.16 L131.96,330.76 L132.23,332.32 L132.50,331.97 L132.78,331.42 L133.05,331.49 L133.32,331.71 L133.59,332.28 L133.86,331.42 L134.13,330.38 L134.41,328.94 L134.68,329.42 L134.95,330.17 L135.22,330.76 L135.49,331.21 L135.77,330.48 L136.04,330.96 L136.31,332.57 L136.58,334.06 L136.85,335.25 L137.12,335.55 L137.40,333.85 L137.67,331.70 L137.94,331.03 L138.21,329.72 L138.48,330.22 L138.76,330.66 L139.03,330.66 L139.30,331.18 L139.57,330.51 L139.84,330.86 L140.12,330.69 L140.39,329.73 L140.66,329.91 L140.93,329.76 L141.20,329.52 L141.47,330.79 L141.75,331.14 L142.02,330.47 L142.29,330.48 L142.56,329.85 L142.83,329.67 L143.11,331.32 L143.38,331.68 L143.65,331.61 L143.92,331.86 L144.19,330.79 L144.47,330.50 L144.74,329.70 L145.01,329.54 L145.28,329.25 L145.55,329.26 L145.82,330.87 L146.10,330.34 L146.37,330.36 L146.64,329.53 L146.91,328.25 L147.18,327.92 L147.46,326.78 L147.73,327.38 L148.00,328.69 L148.27,328.74 L148.54,328.86 L148.82,329.82 L149.09,329.38 L149.36,328.88 L149.63,328.99 L149.90,327.24 L150.18,326.07 L150.45,326.50 L150.72,326.67 L150.99,327.04 L151.26,327.39 L151.53,327.43 L151.81,327.59 L152.08,328.23 L152.35,326.84 L152.62,326.98 L152.89,327.88 L153.17,328.28 L153.44,328.91 L153.71,328.68 L153.98,327.96 L154.25,327.21 L154.53,327.57 L154.80,328.05 L155.07,328.18 L155.34,328.36 L155.61,327.79 L155.88,326.61 L156.16,327.03 L156.43,327.08 L156.70,327.38 L156.97,327.07 L157.24,325.95 L157.52,325.40 L157.79,325.01 L158.06,326.88 L158.33,327.62 L158.60,328.01 L158.88,328.87 L159.15,327.24 L159.42,326.90 L159.69,326.36 L159.96,326.04 L160.23,325.91 L160.51,325.43 L160.78,325.76 L161.05,325.08 L161.32,326.03 L161.59,325.40 L161.87,325.77 L162.14,326.43 L162.41,326.44 L162.68,327.52 L162.95,326.00 L163.22,326.35 L163.50,324.59 L163.77,323.69 L164.04,324.18 L164.31,324.05 L164.58,324.51 L164.86,326.86 L165.13,327.19 L165.40,326.15 L165.67,326.68 L165.94,323.68 L166.22,323.62 L166.49,324.62 L166.76,324.52 L167.03,325.60 L167.30,324.25 L167.57,324.53 L167.85,324.45 L168.12,324.00 L168.39,325.37 L168.66,324.56 L168.93,325.53 L169.21,325.82 L169.48,324.71 L169.75,324.16 L170.02,323.20 L170.29,323.17 L170.57,323.82 L170.84,323.82 L171.11,323.48 L171.38,323.21 L171.65,322.81 L171.93,323.30 L172.20,323.38 L172.47,325.17 L172.74,326.51 L173.01,325.70 L173.28,326.19 L173.56,326.09 L173.83,325.48 L174.10,326.34 L174.37,326.20 L174.64,325.80 L174.92,324.93 L175.19,325.77 L175.46,324.28 L175.73,324.28 L176.00,323.79 L176.28,322.67 L176.55,325.16 L176.82,325.26 L177.09,326.24 L177.36,326.60 L177.63,325.80 L177.91,325.03 L178.18,324.98 L178.45,325.84 L178.72,325.45 L178.99,324.18 L179.27,324.56 L179.54,324.29 L179.81,323.77 L180.08,324.07 L180.35,322.81 L180.62,322.52 L180.90,323.06 L181.17,323.93 L181.44,324.73 L181.71,324.04 L181.98,323.20 L182.26,322.83 L182.53,322.63 L182.80,323.06 L183.07,322.57 L183.34,323.71 L183.62,322.72 L183.89,321.98 L184.16,322.67 L184.43,322.43 L184.70,322.50 L184.97,322.29 L185.25,321.64 L185.52,320.03 L185.79,322.10 L186.06,322.67 L186.33,323.57 L186.61,325.18 L186.88,323.97 L187.15,323.86 L187.42,323.24 L187.69,322.82 L187.97,323.30 L188.24,323.27 L188.51,323.31 L188.78,322.14 L189.05,320.81 L189.32,321.16 L189.60,321.92 L189.87,321.48 L190.14,322.20 L190.41,321.80 L190.68,320.66 L190.96,321.88 L191.23,320.67 L191.50,321.29 L191.77,321.91 L192.04,322.09 L192.32,323.62 L192.59,323.27 L192.86,322.04 L193.13,321.81 L193.40,321.12 L193.68,321.45 L193.95,322.31 L194.22,322.57 L194.49,323.33 L194.76,322.79 L195.03,323.31 L195.31,322.41 L195.58,322.09 L195.85,323.84 L196.12,324.10 L196.39,324.71 L196.67,324.93 L196.94,322.62 L197.21,321.24 L197.48,320.20 L197.75,319.28 L198.02,319.57 L198.30,320.71 L198.57,321.29 L198.84,321.91 L199.11,322.66 L199.38,322.95 L199.66,323.61 L199.93,323.28 L200.20,323.28 L200.47,322.96 L200.74,322.23 L201.02,321.81 L201.29,321.43 L201.56,320.30 L201.83,320.48 L202.10,321.42 L202.38,321.44 L202.65,322.94 L202.92,323.77 L203.19,323.08 L203.46,323.69 L203.73,322.50 L204.01,321.57 L204.28,323.03 L204.55,322.78 L204.82,322.05 L205.09,322.34 L205.37,321.12 L205.64,321.39 L205.91,322.98 L206.18,324.09 L206.45,322.58 L206.72,322.07 L207.00,321.66 L207.27,320.60 L207.54,323.44 L207.81,322.57 L208.08,321.32 L208.36,321.84 L208.63,320.60 L208.90,322.08 L209.17,322.34 L209.44,322.27 L209.72,322.71 L209.99,321.17 L210.26,321.44 L210.53,321.16 L210.80,321.92 L211.07,323.74 L211.35,323.29 L211.62,322.84 L211.89,321.84 L212.16,320.30 L212.43,320.91 L212.71,321.73 L212.98,321.83 L213.25,322.53 L213.52,322.74 L213.79,320.89 L214.07,320.65 L214.34,320.59 L214.61,320.85 L214.88,322.64 L215.15,323.53 L215.43,324.86 L215.70,325.16 L215.97,325.70 L216.24,326.38 L216.51,325.89 L216.78,326.90 L217.06,325.18 L217.33,323.49 L217.60,323.63 L217.87,321.27 L218.14,321.78 L218.42,324.05 L218.69,323.55 L218.96,325.15 L219.23,326.62 L219.50,325.43 L219.78,324.81 L220.05,324.01 L220.32,323.93 L220.59,324.13 L220.86,325.10 L221.13,324.61 L221.41,323.91 L221.68,324.17 L221.95,324.36 L222.22,326.02 L222.49,326.43 L222.77,325.50 L223.04,326.09 L223.31,324.76 L223.58,324.45 L223.85,324.45 L224.12,323.90 L224.40,323.44 L224.67,322.52 L224.94,321.61 L225.21,321.71 L225.48,322.17 L225.76,323.34 L226.03,324.51 L226.30,324.27 L226.57,323.70 L226.84,322.33 L227.12,321.53 L227.39,321.65 L227.66,322.61 L227.93,323.53 L228.20,324.33 L228.47,324.20 L228.75,323.00 L229.02,323.04 L229.29,322.44 L229.56,322.10 L229.83,321.85 L230.11,322.39 L230.38,323.60 L230.65,323.67 L230.92,325.16 L231.19,324.16 L231.47,323.24 L231.74,324.29 L232.01,323.48 L232.28,323.82 L232.55,324.33 L232.82,323.19 L233.10,323.37 L233.37,323.94 L233.64,323.80 L233.91,323.75 L234.18,323.74 L234.46,324.41 L234.73,324.23 L235.00,324.70 L235.27,323.85 L235.54,323.50 L235.82,324.37 L236.09,323.57 L236.36,323.69 L236.63,323.19 L236.90,322.73 L237.18,323.42 L237.45,322.65 L237.72,324.22 L237.99,323.18 L238.26,322.50 L238.53,323.33 L238.81,322.42 L239.08,322.98 L239.35,323.93 L239.62,323.68 L239.89,324.53 L240.17,325.99 L240.44,325.47 L240.71,325.65 L240.98,325.05 L241.25,323.60 L241.52,323.54 L241.80,323.36 L242.07,324.40 L242.34,323.96 L242.61,322.80 L242.88,323.71 L243.16,323.94 L243.43,324.28 L243.70,325.26 L243.97,324.27 L244.24,322.84 L244.52,323.89 L244.79,324.11 L245.06,324.28 L245.33,324.40 L245.60,324.07 L245.88,324.45 L246.15,324.85 L246.42,325.69 L246.69,325.09 L246.96,325.07 L247.23,325.80 L247.51,325.68 L247.78,325.51 L248.05,325.75 L248.32,326.58 L248.59,326.75 L248.87,327.12 L249.14,327.69 L249.41,324.90 L249.68,323.97 L249.95,323.72 L250.22,322.86 L250.50,321.88 L250.77,323.14 L251.04,322.80 L251.31,323.56 L251.58,324.57 L251.86,323.50 L252.13,323.67 L252.40,322.94 L252.67,324.26 L252.94,325.63 L253.22,325.15 L253.49,324.57 L253.76,324.37 L254.03,323.68 L254.30,325.24 L254.57,324.81 L254.85,325.18 L255.12,325.45 L255.39,324.50 L255.66,324.86 L255.93,323.91 L256.21,323.42 L256.48,323.28 L256.75,323.29 L257.02,323.32 L257.29,323.14 L257.57,323.16 L257.84,324.05 L258.11,323.37 L258.38,323.90 L258.65,324.61 L258.93,324.40 L259.20,325.06 L259.47,324.16 L259.74,324.28 L260.01,324.54 L260.28,324.45 L260.56,324.74 L260.83,324.70 L261.10,324.71 L261.37,324.74 L261.64,325.00 L261.92,325.12 L262.19,325.02 L262.46,324.27 L262.73,324.76 L263.00,323.37 L263.27,323.81 L263.55,323.85 L263.82,322.37 L264.09,323.40 L264.36,322.63 L264.63,323.30 L264.91,324.61 L265.18,323.92 L265.45,322.93 L265.72,323.08 L265.99,322.21 L266.27,322.62 L266.54,322.64 L266.81,323.50 L267.08,322.86 L267.35,322.66 L267.62,323.38 L267.90,323.72 L268.17,324.93 L268.44,324.80 L268.71,323.84 L268.98,323.73 L269.26,323.58 L269.53,324.18 L269.80,325.52 L270.07,324.52 L270.34,324.99 L270.62,324.15 L270.89,325.13 L271.16,324.93 L271.43,325.52 L271.70,327.25 L271.97,325.47 L272.25,325.86 L272.52,324.70 L272.79,324.15 L273.06,324.89 L273.33,325.37 L273.61,325.26 L273.88,325.23 L274.15,324.92 L274.42,324.87 L274.69,324.58 L274.97,324.88 L275.24,325.88 L275.51,326.94 L275.78,327.22 L276.05,326.68 L276.32,324.92 L276.60,323.55 L276.87,324.24 L277.14,325.20 L277.41,325.33 L277.68,325.26 L277.96,324.05 L278.23,323.22 L278.50,323.90 L278.77,324.68 L279.04,325.87 L279.32,325.31 L279.59,325.51 L279.86,324.28 L280.13,324.64 L280.40,324.86 L280.68,322.65 L280.95,322.38 L281.22,321.49 L281.49,322.82 L281.76,324.59 L282.03,325.66 L282.31,325.87 L282.58,326.32 L282.85,326.52 L283.12,325.77 L283.39,325.99 L283.67,324.31 L283.94,323.19 L284.21,324.33 L284.48,325.18 L284.75,325.18 L285.02,325.62 L285.30,324.77 L285.57,324.43 L285.84,324.06 L286.11,324.05 L286.38,323.67 L286.66,323.32 L286.93,323.68 L287.20,323.88 L287.47,325.34 L287.74,325.25 L288.02,326.38 L288.29,326.45 L288.56,325.95 L288.83,325.34 L289.10,324.99 L289.38,325.72 L289.65,326.23 L289.92,327.78 L290.19,327.62 L290.46,325.27 L290.73,324.86 L291.01,324.05 L291.28,323.97 L291.55,324.45 L291.82,325.22 L292.09,325.07 L292.37,324.57 L292.64,325.82 L292.91,325.34 L293.18,326.01 L293.45,326.46 L293.72,325.21 L294.00,324.03 L294.27,323.23 L294.54,322.43 L294.81,322.99 L295.08,323.65 L295.36,323.61 L295.63,323.56 L295.90,323.55 L296.17,323.67 L296.44,323.62 L296.72,323.81 L296.99,324.43 L297.26,324.74 L297.53,324.68 L297.80,325.40 L298.07,324.31 L298.35,323.91 L298.62,323.82 L298.89,323.82 L299.16,323.83 L299.43,323.87 L299.71,322.62 L299.98,321.96 L300.25,322.92 L300.52,323.43 L300.79,324.63 L301.07,324.92 L301.34,324.27 L301.61,323.75 L301.88,322.75 L302.15,323.48 L302.43,324.05 L302.70,324.98 L302.97,326.53 L303.24,326.05 L303.51,326.23 L303.78,325.93 L304.06,326.40 L304.33,325.42 L304.60,325.27 L304.87,324.18 L305.14,324.00 L305.42,325.98 L305.69,326.00 L305.96,325.93 L306.23,325.57 L306.50,323.95 L306.77,324.18 L307.05,323.72 L307.32,323.18 L307.59,322.91 L307.86,322.53 L308.13,322.55 L308.41,322.66 L308.68,323.49 L308.95,323.73 L309.22,324.23 L309.49,324.68 L309.77,325.04 L310.04,324.73 L310.31,324.41 L310.58,324.07 L310.85,322.89 L311.12,322.17 L311.40,323.21 L311.67,323.04 L311.94,323.94 L312.21,325.28 L312.48,324.55 L312.76,326.19 L313.03,325.33 L313.30,324.53 L313.57,324.15 L313.84,322.56 L314.12,321.99 L314.39,322.72 L314.66,322.38 L314.93,322.16 L315.20,322.83 L315.47,323.76 L315.75,324.49 L316.02,325.56 L316.29,327.02 L316.56,326.07 L316.83,325.41 L317.11,325.51 L317.38,324.59 L317.65,323.60 L317.92,324.46 L318.19,324.98 L318.47,324.65 L318.74,324.90 L319.01,324.16 L319.28,323.57 L319.55,323.91 L319.82,323.67 L320.10,323.57 L320.37,324.64 L320.64,324.17 L320.91,326.03 L321.18,325.45 L321.46,324.01 L321.73,324.26 L322.00,323.67 L322.27,324.58 L322.54,325.91 L322.82,325.10 L323.09,324.52 L323.36,325.38 L323.63,324.66 L323.90,324.20 L324.18,324.68 L324.45,323.97 L324.72,322.78 L324.99,323.41 L325.26,323.19 L325.53,322.81 L325.81,323.41 L326.08,324.00 L326.35,323.64 L326.62,324.82 L326.89,326.11 L327.17,326.53 L327.44,326.10 L327.71,325.17 L327.98,323.96 L328.25,322.53 L328.52,322.88 L328.80,323.04 L329.07,323.31 L329.34,323.84 L329.61,324.43 L329.88,324.90 L330.16,325.06 L330.43,325.07 L330.70,325.00 L330.97,325.03 L331.24,324.57 L331.52,324.51 L331.79,323.54 L332.06,323.13 L332.33,323.09 L332.60,322.50 L332.88,322.27 L333.15,321.93 L333.42,321.86 L333.69,322.78 L333.96,321.89 L334.23,321.89 L334.51,321.57 L334.78,320.89 L335.05,322.14 L335.32,323.57 L335.59,323.96 L335.87,324.73 L336.14,324.85 L336.41,325.47 L336.68,324.66 L336.95,325.23 L337.22,325.67 L337.50,324.05 L337.77,324.39 L338.04,324.43 L338.31,323.85 L338.58,324.01 L338.86,324.01 L339.13,323.14 L339.40,322.94 L339.67,323.36 L339.94,324.36 L340.22,323.49 L340.49,324.18 L340.76,324.55 L341.03,323.17 L341.30,323.96 L341.57,323.91 L341.85,321.97 L342.12,323.93 L342.39,323.60 L342.66,323.19 L342.93,324.33 L343.21,322.87 L343.48,323.70 L343.75,323.38 L344.02,324.20 L344.29,324.51 L344.57,323.43 L344.84,324.96 L345.11,323.31 L345.38,324.41 L345.65,325.90 L345.93,323.94 L346.20,324.67 L346.47,323.77 L346.74,324.33 L347.01,324.83 L347.28,324.74 L347.56,324.81 L347.83,324.91 L348.10,324.78 L348.37,324.40 L348.64,323.39 L348.92,322.09 L349.19,321.25 L349.46,320.86 L349.73,323.29 L350.00,322.61 L350.28,323.66 L350.55,325.14 L350.82,323.39 L351.09,323.90 L351.36,324.69 L351.63,324.82 L351.91,324.76 L352.18,325.68 L352.45,324.14 L352.72,323.22 L352.99,323.86 L353.27,324.29 L353.54,324.56 L353.81,325.55 L354.08,326.07 L354.35,325.94 L354.62,325.31 L354.90,323.34 L355.17,322.97 L355.44,322.47 L355.71,323.01 L355.98,323.41 L356.26,323.68 L356.53,322.19 L356.80,322.76 L357.07,322.75 L357.34,323.39 L357.62,324.61 L357.89,324.89 L358.16,324.38 L358.43,323.15 L358.70,323.83 L358.97,322.18 L359.25,323.64 L359.52,323.61 L359.79,323.91 L360.06,324.85 L360.33,324.47 L360.61,324.77 L360.88,324.15 L361.15,324.89 L361.42,325.27 L361.69,326.04 L361.97,324.85 L362.24,324.00 L362.51,324.35 L362.78,323.95 L363.05,324.46 L363.32,323.71 L363.60,322.91 L363.87,322.48 L364.14,323.05 L364.41,324.25 L364.68,324.39 L364.96,323.64 L365.23,322.96 L365.50,322.69 L365.77,321.89 L366.04,322.56 L366.32,323.42 L366.59,321.77 L366.86,323.70 L367.13,324.43 L367.40,325.40 L367.67,326.99 L367.95,326.55 L368.22,325.20 L368.49,324.98 L368.76,325.28 L369.03,324.76 L369.31,326.07 L369.58,324.41 L369.85,324.61 L370.12,323.99 L370.39,323.76 L370.67,324.26 L370.94,324.45 L371.21,324.69 L371.48,324.33 L371.75,324.78 L372.02,324.49 L372.30,324.76 L372.57,325.16 L372.84,325.42 L373.11,325.46 L373.38,324.76 L373.66,324.87 L373.93,324.42 L374.20,324.84 L374.47,324.95 L374.74,323.67 L375.02,324.10 L375.29,324.14 L375.56,324.41 L375.83,324.65 L376.10,324.00 L376.37,324.67 L376.65,324.74 L376.92,324.84 L377.19,324.51 L377.46,323.12 L377.73,322.33 L378.01,322.67 L378.28,322.52 L378.55,323.59 L378.82,324.08 L379.09,322.61 L379.37,322.24 L379.64,322.00 L379.91,322.43 L380.18,323.43 L380.45,323.88 L380.72,324.18 L381.00,322.94 L381.27,322.99 L381.54,323.92 L381.81,322.45 L382.08,324.77 L382.36,324.78 L382.63,324.44 L382.90,325.15 L383.17,322.81 L383.44,322.05 L383.72,321.30 L383.99,321.82 L384.26,322.20 L384.53,322.34 L384.80,323.16 L385.07,324.09 L385.35,324.64 L385.62,324.76 L385.89,324.55 L386.16,324.70 L386.43,323.65 L386.71,323.75 L386.98,324.95 L387.25,323.90 L387.52,324.03 L387.79,323.86 L388.07,322.91 L388.34,323.51 L388.61,323.37 L388.88,323.68 L389.15,323.55 L389.42,318.71 L389.70,312.47 L389.97,306.33 L390.24,299.05 L390.51,296.07 L390.78,295.00 L391.06,294.43 L391.33,293.47 L391.60,294.53 L391.87,295.61 L392.14,294.57 L392.42,294.74 L392.69,294.90 L392.96,294.89 L393.23,295.71 L393.50,298.05 L393.77,297.94 L394.05,296.50 L394.32,296.44 L394.59,295.50 L394.86,295.29 L395.13,296.72 L395.41,296.38 L395.68,296.35 L395.95,295.80 L396.22,295.86 L396.49,296.70 L396.77,296.92 L397.04,299.01 L397.31,298.79 L397.58,298.85 L397.85,298.96 L398.12,298.04 L398.40,298.39 L398.67,299.11 L398.94,298.63 L399.21,298.79 L399.48,298.27 L399.76,297.21 L400.03,297.01 L400.30,297.64 L400.57,298.54 L400.84,299.21 L401.12,300.29 L401.39,300.23 L401.66,300.34 L401.93,300.52 L402.20,299.78 L402.47,299.01 L402.75,297.86 L403.02,297.42 L403.29,296.81 L403.56,298.39 L403.83,298.88 L404.11,298.68 L404.38,300.17 L404.65,298.08 L404.92,298.91 L405.19,301.02 L405.47,299.12 L405.74,300.63 L406.01,300.75 L406.28,299.78 L406.55,300.44 L406.82,300.46 L407.10,300.40 L407.37,299.32 L407.64,300.52 L407.91,301.03 L408.18,301.14 L408.46,302.25 L408.73,301.67 L409.00,301.35 L409.27,301.84 L409.54,301.68 L409.82,303.27 L410.09,303.29 L410.36,302.71 L410.63,302.13 L410.90,301.16 L411.17,301.18 L411.45,301.84 L411.72,302.36 L411.99,302.33 L412.26,303.37 L412.53,302.49 L412.81,302.58 L413.08,302.71 L413.35,302.18 L413.62,301.47 L413.89,301.57 L414.17,302.13 L414.44,302.21 L414.71,303.04 L414.98,303.07 L415.25,303.03 L415.52,302.89 L415.80,302.74 L416.07,302.47 L416.34,301.24 L416.61,300.84 L416.88,302.16 L417.16,301.47 L417.43,302.05 L417.70,302.43 L417.97,301.95 L418.24,303.22 L418.52,303.03 L418.79,302.94 L419.06,302.68 L419.33,302.04 L419.60,302.73 L419.87,302.16 L420.15,302.79 L420.42,303.78 L420.69,303.90 L420.96,304.95 L421.23,304.47 L421.51,303.82 L421.78,304.18 L422.05,303.21 L422.32,303.37 L422.59,303.37 L422.87,303.84 L423.14,304.54 L423.41,305.24 L423.68,306.04 L423.95,305.03 L424.22,306.17 L424.50,306.43 L424.77,305.78 L425.04,306.16 L425.31,305.44 L425.58,306.01 L425.86,307.00 L426.13,307.38 L426.40,306.27 L426.67,304.75 L426.94,304.14 L427.22,303.31 L427.49,304.10 L427.76,304.17 L428.03,303.97 L428.30,303.61 L428.57,303.70 L428.85,305.35 L429.12,305.70 L429.39,306.48 L429.66,305.92 L429.93,305.14 L430.21,305.30 L430.48,306.31 L430.75,306.46 L431.02,306.02 L431.29,305.66 L431.57,304.07 L431.84,304.93 L432.11,304.82 L432.38,304.74 L432.65,306.67 L432.92,305.37 L433.20,305.74 L433.47,306.68 L433.74,305.62 L434.01,304.69 L434.28,304.49 L434.56,303.68 L434.83,303.53 L435.10,304.84 L435.37,304.79 L435.64,305.73 L435.92,306.20 L436.19,305.67 L436.46,305.40 L436.73,305.15 L437.00,305.18 L437.27,305.33 L437.55,306.09 L437.82,305.89 L438.09,305.43 L438.36,306.20 L438.63,305.84 L438.91,305.61 L439.18,306.56 L439.45,306.87 L439.72,307.92 L439.99,308.20 L440.27,307.49 L440.54,307.90 L440.81,307.30 L441.08,307.15 L441.35,308.25 L441.62,306.56 L441.90,306.73 L442.17,306.60 L442.44,306.63 L442.71,307.64 L442.98,307.42 L443.26,306.99 L443.53,306.38 L443.80,306.10 L444.07,306.68 L444.34,308.67 L444.62,308.37 L444.89,308.09 L445.16,307.16 L445.43,306.53 L445.70,306.46 L445.97,306.78 L446.25,307.21 L446.52,305.99 L446.79,307.08 L447.06,306.23 L447.33,306.69 L447.61,308.02 L447.88,307.50 L448.15,307.84 L448.42,308.45 L448.69,308.12 L448.97,308.71 L449.24,309.44 L449.51,309.57 L449.78,308.97 L450.05,309.03 L450.32,307.89 L450.60,307.96 L450.87,309.17 L451.14,308.13 L451.41,308.12 L451.68,308.35 L451.96,307.65 L452.23,308.89 L452.50,310.14 L452.77,309.83 L453.04,309.76 L453.32,310.07 L453.59,310.14 L453.86,310.32 L454.13,310.66 L454.40,310.54 L454.67,311.15 L454.95,309.27 L455.22,309.20 L455.49,309.47 L455.76,308.19 L456.03,310.62 L456.31,311.72 L456.58,309.92 L456.85,309.72 L457.12,309.23 L457.39,308.91 L457.67,309.43 L457.94,309.23 L458.21,308.44 L458.48,307.64 L458.75,308.68 L459.02,310.98 L459.30,311.10 L459.57,311.12 L459.84,310.51 L460.11,309.45 L460.38,309.11 L460.66,310.31 L460.93,309.97 L461.20,309.61 L461.47,310.82 L461.74,310.24 L462.02,310.86 L462.29,310.97 L462.56,311.16 L462.83,311.33 L463.10,311.25 L463.37,311.72 L463.65,311.07 L463.92,310.95 L464.19,311.22 L464.46,311.51 L464.73,311.05 L465.01,311.49 L465.28,311.44 L465.55,311.60 L465.82,312.87 L466.09,312.29 L466.37,312.02 L466.64,311.47 L466.91,310.53 L467.18,310.69 L467.45,310.40 L467.72,309.18 L468.00,309.36 L468.27,309.17 L468.54,308.58 L468.81,309.28 L469.08,310.39 L469.36,309.59 L469.63,310.60 L469.90,310.63 L470.17,310.30 L470.44,311.56 L470.72,312.02 L470.99,312.13 L471.26,312.29 L471.53,312.12 L471.80,311.19 L472.07,312.01 L472.35,311.25 L472.62,311.48 L472.89,313.02 L473.16,312.72 L473.43,312.84 L473.71,313.15 L473.98,311.78 L474.25,311.29 L474.52,310.81 L474.79,310.37 L475.07,311.80 L475.34,312.22 L475.61,387.73 L475.88,387.53 L476.15,387.18 L476.42,381.15 L476.70,381.62 L476.97,381.55 L477.24,381.70 L477.51,380.39 L477.78,380.19 L478.06,379.81 L478.33,379.87 L478.60,380.97 L478.87,381.32 L479.14,381.94 L479.42,382.41 L479.69,383.37 L479.96,382.15 L480.23,382.50 L480.50,381.53 L480.78,380.45 L481.05,381.38 L481.32,380.27 L481.59,380.81 L481.86,380.58 L482.13,380.52 L482.41,380.12 L482.68,379.56 L482.95,379.86 L483.22,378.93 L483.49,379.16 L483.77,378.97 L484.04,378.94 L484.31,380.23 L484.58,380.39 L484.85,381.13 L485.12,381.20 L485.40,380.56 L485.67,380.93 L485.94,381.82 L486.21,380.58 L486.48,380.90 L486.76,381.31 L487.03,381.66 L487.30,383.05 L487.57,382.61 L487.84,381.34 L488.12,380.19 L488.39,380.04 L488.66,380.71 L488.93,382.28 L489.20,382.90 L489.47,381.63 L489.75,381.05 L490.02,379.47 L490.29,378.38 L490.56,378.81 L490.83,379.70 L491.11,380.14 L491.38,381.42 L491.65,381.13 L491.92,379.41 L492.19,380.50 L492.47,380.31 L492.74,380.56 L493.01,381.61 L493.28,380.65 L493.55,380.80 L493.82,381.02" stroke="#0000ff" stroke-width="4.6" fill="none" stroke-linejoin="round" stroke-linecap="round"/>
<path d="M113.20,377.47 L113.47,378.00 L113.74,377.52 L114.02,377.94 L114.29,377.81 L114.56,378.53 L114.83,379.34 L115.10,378.84 L115.38,378.58 L115.65,378.53 L115.92,378.30 L116.19,378.84 L116.46,378.80 L116.73,378.22 L117.01,378.09 L117.28,377.80 L117.55,378.78 L117.82,367.87 L118.09,360.67 L118.37,361.90 L118.64,361.93 L118.91,361.76 L119.18,362.15 L119.45,363.17 L119.73,363.77 L120.00,366.20 L120.27,365.10 L120.54,365.52 L120.81,365.08 L121.08,363.21 L121.36,363.85 L121.63,362.94 L121.90,363.07 L122.17,363.65 L122.44,363.63 L122.72,363.99 L122.99,364.75 L123.26,364.39 L123.53,365.08 L123.80,364.21 L124.08,364.18 L124.35,364.18 L124.62,364.38 L124.89,364.74 L125.16,362.91 L125.43,363.54 L125.71,363.61 L125.98,364.49 L126.25,365.65 L126.52,364.12 L126.79,361.85 L127.07,344.01 L127.34,335.89 L127.61,337.13 L127.88,335.64 L128.15,335.67 L128.43,336.62 L128.70,336.65 L128.97,337.63 L129.24,337.61 L129.51,336.50 L129.78,335.86 L130.06,335.81 L130.33,336.32 L130.60,335.61 L130.87,336.38 L131.14,336.17 L131.42,335.62 L131.69,336.12 L131.96,335.75 L132.23,336.18 L132.50,337.79 L132.78,337.75 L133.05,338.35 L133.32,339.43 L133.59,337.74 L133.86,338.35 L134.13,337.16 L134.41,336.07 L134.68,337.38 L134.95,337.33 L135.22,337.63 L135.49,337.58 L135.77,336.64 L136.04,336.87 L136.31,336.93 L136.58,337.07 L136.85,337.96 L137.12,337.43 L137.40,337.36 L137.67,338.54 L137.94,336.89 L138.21,336.21 L138.48,336.13 L138.76,334.43 L139.03,335.95 L139.30,335.66 L139.57,335.58 L139.84,336.18 L140.12,336.02 L140.39,336.87 L140.66,336.45 L140.93,336.67 L141.20,336.66 L141.47,336.18 L141.75,335.87 L142.02,335.98 L142.29,334.78 L142.56,335.57 L142.83,335.26 L143.11,335.40 L143.38,335.23 L143.65,334.74 L143.92,335.49 L144.19,335.15 L144.47,335.12 L144.74,334.00 L145.01,334.09 L145.28,334.41 L145.55,334.57 L145.82,334.65 L146.10,334.07 L146.37,333.85 L146.64,333.30 L146.91,334.00 L147.18,334.28 L147.46,333.64 L147.73,334.63 L148.00,335.93 L148.27,335.95 L148.54,335.75 L148.82,335.10 L149.09,333.48 L149.36,333.36 L149.63,333.05 L149.90,333.16 L150.18,332.44 L150.45,332.59 L150.72,332.82 L150.99,333.29 L151.26,334.21 L151.53,333.88 L151.81,334.06 L152.08,332.92 L152.35,333.04 L152.62,332.58 L152.89,332.41 L153.17,332.54 L153.44,333.02 L153.71,333.70 L153.98,333.15 L154.25,334.23 L154.53,333.34 L154.80,332.67 L155.07,333.26 L155.34,332.52 L155.61,332.34 L155.88,332.79 L156.16,332.75 L156.43,333.15 L156.70,333.77 L156.97,334.50 L157.24,334.66 L157.52,335.38 L157.79,334.94 L158.06,333.59 L158.33,334.29 L158.60,333.23 L158.88,333.31 L159.15,333.62 L159.42,333.55 L159.69,333.62 L159.96,333.49 L160.23,332.80 L160.51,331.14 L160.78,332.21 L161.05,332.19 L161.32,332.58 L161.59,333.90 L161.87,332.46 L162.14,331.48 L162.41,331.66 L162.68,330.48 L162.95,330.00 L163.22,331.68 L163.50,332.83 L163.77,332.93 L164.04,332.67 L164.31,333.38 L164.58,332.21 L164.86,333.44 L165.13,334.13 L165.40,333.22 L165.67,332.18 L165.94,332.06 L166.22,331.13 L166.49,332.18 L166.76,332.63 L167.03,330.80 L167.30,331.98 L167.57,330.57 L167.85,330.90 L168.12,330.59 L168.39,330.10 L168.66,330.57 L168.93,331.49 L169.21,333.35 L169.48,333.33 L169.75,334.30 L170.02,333.42 L170.29,333.42 L170.57,335.22 L170.84,334.11 L171.11,334.78 L171.38,335.92 L171.65,334.23 L171.93,333.36 L172.20,331.72 L172.47,331.45 L172.74,331.43 L173.01,333.07 L173.28,334.55 L173.56,333.85 L173.83,334.38 L174.10,334.01 L174.37,334.23 L174.64,334.62 L174.92,333.06 L175.19,333.74 L175.46,333.47 L175.73,332.63 L176.00,334.84 L176.28,334.20 L176.55,333.50 L176.82,333.59 L177.09,332.48 L177.36,331.27 L177.63,331.45 L177.91,332.18 L178.18,331.96 L178.45,332.82 L178.72,333.83 L178.99,334.26 L179.27,334.71 L179.54,334.74 L179.81,334.49 L180.08,334.34 L180.35,334.64 L180.62,334.65 L180.90,334.13 L181.17,333.53 L181.44,332.93 L181.71,333.67 L181.98,333.61 L182.26,334.64 L182.53,334.90 L182.80,333.91 L183.07,334.30 L183.34,334.58 L183.62,334.25 L183.89,334.99 L184.16,334.21 L184.43,332.78 L184.70,332.91 L184.97,332.17 L185.25,332.38 L185.52,333.77 L185.79,334.29 L186.06,335.06 L186.33,335.05 L186.61,333.58 L186.88,333.40 L187.15,332.61 L187.42,332.66 L187.69,332.85 L187.97,332.79 L188.24,332.47 L188.51,332.66 L188.78,333.08 L189.05,333.05 L189.32,333.88 L189.60,333.36 L189.87,332.76 L190.14,333.27 L190.41,334.87 L190.68,334.99 L190.96,335.02 L191.23,333.32 L191.50,331.65 L191.77,331.28 L192.04,330.63 L192.32,332.07 L192.59,333.02 L192.86,333.41 L193.13,333.06 L193.40,331.96 L193.68,331.48 L193.95,331.88 L194.22,332.22 L194.49,332.20 L194.76,332.50 L195.03,330.90 L195.31,331.75 L195.58,332.07 L195.85,331.59 L196.12,332.68 L196.39,332.43 L196.67,332.60 L196.94,332.36 L197.21,331.70 L197.48,331.31 L197.75,332.16 L198.02,331.35 L198.30,330.89 L198.57,330.95 L198.84,331.20 L199.11,331.61 L199.38,332.52 L199.66,332.24 L199.93,331.06 L200.20,331.69 L200.47,331.74 L200.74,330.75 L201.02,332.29 L201.29,332.18 L201.56,332.88 L201.83,333.96 L202.10,333.01 L202.38,333.25 L202.65,334.12 L202.92,333.71 L203.19,332.54 L203.46,332.88 L203.73,330.98 L204.01,331.15 L204.28,332.50 L204.55,332.64 L204.82,332.73 L205.09,332.93 L205.37,332.10 L205.64,331.34 L205.91,332.04 L206.18,333.85 L206.45,333.97 L206.72,334.26 L207.00,333.74 L207.27,332.51 L207.54,331.78 L207.81,331.25 L208.08,331.08 L208.36,330.91 L208.63,331.88 L208.90,331.98 L209.17,331.78 L209.44,331.00 L209.72,331.05 L209.99,331.65 L210.26,332.60 L210.53,333.12 L210.80,333.11 L211.07,333.40 L211.35,332.71 L211.62,332.66 L211.89,333.19 L212.16,333.50 L212.43,334.07 L212.71,333.11 L212.98,333.27 L213.25,333.71 L213.52,333.27 L213.79,334.90 L214.07,334.86 L214.34,335.68 L214.61,334.48 L214.88,333.77 L215.15,333.38 L215.43,331.64 L215.70,333.21 L215.97,334.83 L216.24,334.33 L216.51,334.32 L216.78,333.88 L217.06,333.08 L217.33,334.81 L217.60,335.31 L217.87,334.16 L218.14,334.07 L218.42,332.20 L218.69,331.57 L218.96,333.27 L219.23,333.94 L219.50,334.58 L219.78,334.83 L220.05,333.83 L220.32,334.11 L220.59,333.14 L220.86,333.39 L221.13,332.37 L221.41,330.24 L221.68,331.79 L221.95,332.30 L222.22,332.35 L222.49,332.73 L222.77,331.40 L223.04,330.47 L223.31,330.63 L223.58,331.01 L223.85,331.91 L224.12,331.68 L224.40,331.57 L224.67,332.17 L224.94,332.04 L225.21,332.72 L225.48,333.74 L225.76,333.23 L226.03,332.41 L226.30,332.07 L226.57,332.06 L226.84,333.59 L227.12,334.30 L227.39,334.83 L227.66,335.20 L227.93,334.09 L228.20,333.65 L228.47,330.96 L228.75,331.39 L229.02,332.03 L229.29,332.74 L229.56,334.88 L229.83,334.40 L230.11,333.64 L230.38,334.21 L230.65,333.41 L230.92,332.87 L231.19,333.58 L231.47,332.89 L231.74,333.13 L232.01,333.26 L232.28,333.17 L232.55,332.87 L232.82,333.02 L233.10,333.91 L233.37,333.46 L233.64,332.94 L233.91,332.88 L234.18,332.82 L234.46,332.91 L234.73,333.44 L235.00,333.30 L235.27,332.91 L235.54,332.22 L235.82,331.46 L236.09,331.16 L236.36,330.72 L236.63,330.60 L236.90,331.03 L237.18,331.68 L237.45,332.62 L237.72,333.37 L237.99,332.71 L238.26,333.18 L238.53,332.08 L238.81,332.65 L239.08,332.81 L239.35,331.15 L239.62,331.55 L239.89,331.53 L240.17,331.52 L240.44,332.75 L240.71,332.27 L240.98,331.84 L241.25,332.97 L241.52,332.98 L241.80,333.32 L242.07,332.59 L242.34,331.52 L242.61,331.18 L242.88,331.21 L243.16,331.81 L243.43,332.30 L243.70,332.35 L243.97,332.04 L244.24,332.24 L244.52,331.82 L244.79,332.23 L245.06,333.34 L245.33,333.08 L245.60,334.20 L245.88,334.52 L246.15,334.73 L246.42,335.30 L246.69,335.13 L246.96,333.44 L247.23,332.42 L247.51,332.13 L247.78,332.48 L248.05,335.15 L248.32,335.22 L248.59,335.57 L248.87,334.25 L249.14,333.08 L249.41,333.91 L249.68,333.86 L249.95,335.52 L250.22,336.16 L250.50,335.11 L250.77,334.94 L251.04,333.68 L251.31,333.08 L251.58,333.65 L251.86,333.57 L252.13,334.20 L252.40,334.38 L252.67,333.35 L252.94,332.95 L253.22,333.61 L253.49,332.20 L253.76,332.34 L254.03,331.67 L254.30,330.44 L254.57,331.45 L254.85,332.32 L255.12,333.02 L255.39,332.39 L255.66,332.27 L255.93,332.44 L256.21,333.24 L256.48,332.48 L256.75,331.43 L257.02,331.45 L257.29,331.12 L257.57,332.10 L257.84,332.74 L258.11,332.26 L258.38,331.69 L258.65,331.35 L258.93,330.95 L259.20,331.48 L259.47,331.08 L259.74,331.36 L260.01,331.58 L260.28,331.86 L260.56,332.38 L260.83,332.72 L261.10,332.82 L261.37,331.61 L261.64,331.15 L261.92,331.77 L262.19,331.62 L262.46,331.73 L262.73,331.67 L263.00,330.76 L263.27,331.88 L263.55,330.41 L263.82,330.76 L264.09,330.41 L264.36,330.41 L264.63,332.17 L264.91,331.67 L265.18,331.90 L265.45,330.81 L265.72,330.13 L265.99,331.42 L266.27,332.61 L266.54,332.90 L266.81,333.34 L267.08,332.65 L267.35,332.24 L267.62,333.20 L267.90,332.57 L268.17,332.70 L268.44,333.45 L268.71,332.56 L268.98,333.60 L269.26,333.51 L269.53,332.76 L269.80,333.40 L270.07,334.46 L270.34,334.54 L270.62,334.62 L270.89,334.84 L271.16,333.46 L271.43,333.02 L271.70,333.91 L271.97,333.87 L272.25,333.71 L272.52,333.79 L272.79,333.03 L273.06,332.59 L273.33,332.64 L273.61,332.75 L273.88,332.60 L274.15,332.65 L274.42,333.06 L274.69,332.82 L274.97,331.59 L275.24,331.48 L275.51,331.31 L275.78,331.86 L276.05,332.96 L276.32,332.87 L276.60,332.41 L276.87,332.07 L277.14,331.88 L277.41,332.21 L277.68,332.62 L277.96,333.85 L278.23,333.21 L278.50,332.68 L278.77,333.39 L279.04,332.69 L279.32,333.26 L279.59,333.71 L279.86,333.64 L280.13,332.62 L280.40,332.85 L280.68,332.21 L280.95,331.67 L281.22,331.77 L281.49,331.23 L281.76,331.65 L282.03,331.92 L282.31,333.74 L282.58,332.38 L282.85,332.42 L283.12,332.73 L283.39,332.20 L283.67,333.76 L283.94,332.73 L284.21,332.78 L284.48,331.99 L284.75,331.42 L285.02,331.67 L285.30,331.66 L285.57,332.67 L285.84,333.16 L286.11,333.26 L286.38,333.12 L286.66,332.24 L286.93,331.37 L287.20,332.28 L287.47,332.70 L287.74,332.75 L288.02,334.62 L288.29,334.30 L288.56,334.44 L288.83,333.47 L289.10,333.44 L289.38,333.66 L289.65,333.11 L289.92,334.54 L290.19,334.52 L290.46,334.00 L290.73,334.96 L291.01,334.80 L291.28,333.81 L291.55,333.28 L291.82,332.98 L292.09,332.54 L292.37,332.12 L292.64,332.21 L292.91,331.54 L293.18,331.66 L293.45,331.80 L293.72,331.46 L294.00,333.02 L294.27,330.97 L294.54,331.49 L294.81,332.40 L295.08,331.72 L295.36,333.10 L295.63,333.43 L295.90,333.36 L296.17,333.63 L296.44,333.10 L296.72,333.47 L296.99,333.33 L297.26,333.03 L297.53,334.01 L297.80,332.92 L298.07,333.35 L298.35,333.26 L298.62,332.73 L298.89,332.20 L299.16,332.33 L299.43,331.58 L299.71,333.25 L299.98,332.73 L300.25,331.74 L300.52,331.44 L300.79,329.79 L301.07,330.65 L301.34,331.94 L301.61,332.09 L301.88,332.79 L302.15,333.47 L302.43,333.07 L302.70,333.69 L302.97,332.86 L303.24,332.92 L303.51,333.02 L303.78,332.88 L304.06,332.56 L304.33,331.52 L304.60,331.17 L304.87,331.66 L305.14,332.43 L305.42,333.17 L305.69,333.46 L305.96,333.09 L306.23,333.04 L306.50,331.43 L306.77,332.06 L307.05,332.07 L307.32,331.98 L307.59,333.08 L307.86,332.87 L308.13,332.32 L308.41,332.41 L308.68,331.91 L308.95,331.52 L309.22,331.86 L309.49,331.31 L309.77,330.86 L310.04,331.48 L310.31,332.44 L310.58,331.79 L310.85,332.08 L311.12,331.64 L311.40,331.46 L311.67,332.17 L311.94,332.13 L312.21,332.65 L312.48,331.50 L312.76,331.54 L313.03,332.49 L313.30,332.35 L313.57,334.40 L313.84,334.11 L314.12,334.63 L314.39,334.76 L314.66,334.00 L314.93,334.13 L315.20,332.85 L315.47,332.58 L315.75,332.08 L316.02,332.10 L316.29,331.51 L316.56,331.22 L316.83,330.57 L317.11,331.10 L317.38,331.69 L317.65,332.30 L317.92,332.77 L318.19,333.02 L318.47,332.90 L318.74,332.80 L319.01,333.39 L319.28,332.41 L319.55,332.57 L319.82,331.74 L320.10,331.69 L320.37,333.38 L320.64,332.81 L320.91,333.39 L321.18,333.63 L321.46,332.23 L321.73,333.73 L322.00,334.06 L322.27,333.04 L322.54,333.88 L322.82,332.50 L323.09,332.32 L323.36,333.08 L323.63,332.58 L323.90,333.17 L324.18,332.54 L324.45,331.86 L324.72,332.00 L324.99,331.29 L325.26,331.59 L325.53,331.36 L325.81,332.12 L326.08,331.77 L326.35,331.53 L326.62,332.83 L326.89,332.01 L327.17,332.77 L327.44,332.48 L327.71,333.00 L327.98,332.62 L328.25,331.43 L328.52,331.65 L328.80,331.21 L329.07,331.80 L329.34,333.58 L329.61,334.42 L329.88,333.55 L330.16,333.71 L330.43,333.53 L330.70,333.01 L330.97,334.54 L331.24,333.59 L331.52,332.90 L331.79,332.40 L332.06,331.78 L332.33,332.69 L332.60,332.69 L332.88,333.75 L333.15,334.20 L333.42,332.65 L333.69,332.75 L333.96,332.38 L334.23,332.31 L334.51,332.59 L334.78,332.94 L335.05,334.03 L335.32,333.31 L335.59,332.91 L335.87,332.87 L336.14,332.34 L336.41,332.88 L336.68,334.17 L336.95,332.74 L337.22,332.27 L337.50,332.87 L337.77,332.57 L338.04,332.37 L338.31,333.00 L338.58,332.46 L338.86,332.61 L339.13,333.41 L339.40,333.34 L339.67,332.33 L339.94,332.48 L340.22,333.42 L340.49,332.74 L340.76,334.86 L341.03,334.75 L341.30,333.88 L341.57,334.03 L341.85,332.59 L342.12,332.52 L342.39,332.38 L342.66,330.45 L342.93,330.48 L343.21,330.44 L343.48,331.03 L343.75,332.99 L344.02,332.73 L344.29,332.39 L344.57,331.10 L344.84,331.72 L345.11,331.80 L345.38,331.93 L345.65,331.65 L345.93,331.66 L346.20,330.47 L346.47,330.25 L346.74,333.10 L347.01,333.49 L347.28,335.01 L347.56,335.38 L347.83,333.31 L348.10,332.65 L348.37,331.81 L348.64,330.75 L348.92,331.22 L349.19,330.08 L349.46,330.90 L349.73,331.24 L350.00,331.87 L350.28,334.32 L350.55,334.15 L350.82,335.29 L351.09,335.14 L351.36,333.45 L351.63,332.41 L351.91,332.00 L352.18,332.37 L352.45,331.85 L352.72,331.53 L352.99,331.72 L353.27,331.55 L353.54,332.44 L353.81,333.34 L354.08,333.71 L354.35,333.36 L354.62,333.55 L354.90,333.04 L355.17,333.09 L355.44,332.86 L355.71,332.40 L355.98,332.69 L356.26,331.93 L356.53,332.90 L356.80,331.70 L357.07,332.12 L357.34,332.07 L357.62,331.36 L357.89,332.84 L358.16,331.28 L358.43,331.19 L358.70,331.29 L358.97,330.70 L359.25,331.42 L359.52,331.21 L359.79,330.59 L360.06,330.79 L360.33,331.17 L360.61,332.41 L360.88,333.00 L361.15,332.45 L361.42,332.41 L361.69,331.56 L361.97,331.62 L362.24,332.43 L362.51,332.84 L362.78,332.77 L363.05,331.33 L363.32,330.71 L363.60,330.46 L363.87,331.84 L364.14,333.22 L364.41,333.24 L364.68,331.76 L364.96,332.63 L365.23,331.59 L365.50,332.00 L365.77,332.85 L366.04,331.17 L366.32,332.51 L366.59,332.74 L366.86,332.45 L367.13,333.64 L367.40,333.57 L367.67,333.17 L367.95,334.86 L368.22,334.00 L368.49,332.96 L368.76,332.96 L369.03,331.57 L369.31,331.09 L369.58,331.72 L369.85,331.77 L370.12,332.67 L370.39,333.07 L370.67,332.01 L370.94,332.60 L371.21,332.05 L371.48,332.78 L371.75,334.19 L372.02,333.96 L372.30,334.27 L372.57,333.38 L372.84,333.72 L373.11,333.02 L373.38,331.27 L373.66,332.77 L373.93,332.35 L374.20,333.75 L374.47,334.84 L374.74,333.07 L375.02,332.88 L375.29,331.03 L375.56,330.92 L375.83,332.06 L376.10,331.51 L376.37,332.69 L376.65,332.78 L376.92,331.66 L377.19,333.10 L377.46,332.46 L377.73,331.63 L378.01,332.84 L378.28,333.14 L378.55,333.42 L378.82,334.51 L379.09,334.46 L379.37,334.83 L379.64,334.16 L379.91,333.66 L380.18,333.73 L380.45,332.11 L380.72,332.89 L381.00,333.06 L381.27,333.00 L381.54,333.60 L381.81,333.30 L382.08,334.51 L382.36,334.38 L382.63,333.72 L382.90,332.76 L383.17,331.16 L383.44,330.86 L383.72,331.92 L383.99,333.24 L384.26,333.82 L384.53,333.60 L384.80,333.14 L385.07,331.62 L385.35,330.79 L385.62,332.00 L385.89,332.56 L386.16,334.00 L386.43,334.25 L386.71,332.86 L386.98,333.76 L387.25,334.49 L387.52,333.96 L387.79,333.90 L388.07,330.66 L388.34,329.28 L388.61,329.73 L388.88,329.01 L389.15,330.79 L389.42,335.33 L389.70,342.35 L389.97,345.17 L390.24,344.47 L390.51,343.65 L390.78,342.18 L391.06,341.88 L391.33,341.25 L391.60,341.93 L391.87,343.44 L392.14,343.32 L392.42,343.66 L392.69,342.85 L392.96,342.41 L393.23,342.91 L393.50,343.89 L393.77,344.59 L394.05,344.56 L394.32,344.58 L394.59,344.23 L394.86,344.63 L395.13,344.31 L395.41,344.66 L395.68,345.80 L395.95,346.01 L396.22,345.00 L396.49,345.15 L396.77,343.99 L397.04,343.12 L397.31,344.58 L397.58,344.07 L397.85,345.92 L398.12,346.40 L398.40,345.19 L398.67,345.14 L398.94,345.08 L399.21,345.56 L399.48,346.83 L399.76,346.85 L400.03,345.48 L400.30,345.19 L400.57,344.93 L400.84,345.53 L401.12,345.37 L401.39,345.15 L401.66,344.97 L401.93,344.86 L402.20,344.92 L402.47,345.27 L402.75,345.07 L403.02,345.04 L403.29,345.81 L403.56,346.15 L403.83,347.35 L404.11,348.09 L404.38,347.46 L404.65,345.13 L404.92,344.96 L405.19,344.78 L405.47,345.00 L405.74,344.72 L406.01,344.01 L406.28,344.15 L406.55,344.11 L406.82,345.07 L407.10,346.64 L407.37,346.65 L407.64,346.11 L407.91,347.86 L408.18,346.22 L408.46,345.81 L408.73,346.22 L409.00,346.48 L409.27,346.17 L409.54,345.66 L409.82,345.51 L410.09,344.46 L410.36,344.67 L410.63,345.98 L410.90,346.57 L411.17,347.32 L411.45,347.16 L411.72,346.50 L411.99,346.23 L412.26,345.21 L412.53,345.64 L412.81,344.49 L413.08,344.08 L413.35,345.23 L413.62,345.44 L413.89,345.63 L414.17,346.20 L414.44,344.78 L414.71,344.63 L414.98,345.26 L415.25,344.30 L415.52,345.74 L415.80,345.39 L416.07,345.45 L416.34,346.05 L416.61,344.38 L416.88,344.15 L417.16,344.59 L417.43,343.98 L417.70,345.18 L417.97,345.40 L418.24,343.89 L418.52,344.56 L418.79,343.64 L419.06,343.53 L419.33,344.62 L419.60,344.71 L419.87,346.00 L420.15,345.63 L420.42,345.08 L420.69,344.51 L420.96,344.55 L421.23,344.84 L421.51,345.84 L421.78,346.51 L422.05,346.04 L422.32,346.84 L422.59,345.90 L422.87,346.07 L423.14,346.51 L423.41,346.59 L423.68,347.52 L423.95,346.64 L424.22,346.22 L424.50,345.75 L424.77,344.73 L425.04,346.17 L425.31,346.85 L425.58,346.70 L425.86,346.17 L426.13,345.62 L426.40,344.90 L426.67,344.08 L426.94,345.72 L427.22,344.12 L427.49,344.77 L427.76,345.71 L428.03,345.73 L428.30,347.95 L428.57,347.37 L428.85,346.04 L429.12,345.87 L429.39,345.45 L429.66,345.42 L429.93,347.43 L430.21,347.15 L430.48,346.36 L430.75,347.89 L431.02,347.34 L431.29,347.49 L431.57,348.24 L431.84,347.06 L432.11,347.94 L432.38,347.81 L432.65,347.95 L432.92,348.38 L433.20,346.63 L433.47,345.46 L433.74,344.74 L434.01,344.67 L434.28,344.59 L434.56,345.38 L434.83,346.15 L435.10,345.57 L435.37,346.69 L435.64,346.70 L435.92,345.66 L436.19,345.64 L436.46,345.86 L436.73,346.27 L437.00,346.80 L437.27,348.01 L437.55,347.05 L437.82,346.70 L438.09,347.48 L438.36,347.09 L438.63,347.91 L438.91,348.94 L439.18,348.76 L439.45,347.62 L439.72,347.49 L439.99,346.99 L440.27,345.86 L440.54,346.06 L440.81,344.89 L441.08,346.00 L441.35,346.32 L441.62,347.91 L441.90,349.08 L442.17,348.14 L442.44,348.74 L442.71,346.83 L442.98,346.49 L443.26,345.77 L443.53,345.60 L443.80,346.87 L444.07,346.66 L444.34,347.06 L444.62,346.55 L444.89,347.63 L445.16,347.57 L445.43,347.78 L445.70,347.75 L445.97,346.72 L446.25,347.07 L446.52,347.93 L446.79,347.73 L447.06,348.30 L447.33,347.59 L447.61,346.24 L447.88,346.71 L448.15,346.09 L448.42,346.53 L448.69,347.21 L448.97,347.89 L449.24,347.64 L449.51,348.67 L449.78,348.84 L450.05,347.07 L450.32,346.55 L450.60,346.09 L450.87,345.75 L451.14,347.13 L451.41,347.63 L451.68,348.13 L451.96,347.89 L452.23,347.49 L452.50,348.05 L452.77,347.55 L453.04,346.24 L453.32,346.37 L453.59,346.23 L453.86,346.21 L454.13,347.99 L454.40,347.05 L454.67,346.36 L454.95,345.80 L455.22,345.13 L455.49,346.53 L455.76,348.20 L456.03,347.56 L456.31,347.42 L456.58,346.47 L456.85,344.71 L457.12,345.81 L457.39,345.94 L457.67,346.26 L457.94,347.62 L458.21,347.55 L458.48,347.56 L458.75,346.64 L459.02,345.20 L459.30,345.54 L459.57,345.50 L459.84,346.09 L460.11,346.43 L460.38,346.49 L460.66,347.04 L460.93,347.54 L461.20,347.71 L461.47,347.08 L461.74,345.28 L462.02,345.25 L462.29,344.42 L462.56,346.20 L462.83,349.63 L463.10,349.72 L463.37,350.60 L463.65,350.20 L463.92,348.90 L464.19,349.36 L464.46,349.56 L464.73,349.14 L465.01,348.34 L465.28,348.71 L465.55,348.96 L465.82,348.19 L466.09,348.44 L466.37,347.61 L466.64,346.82 L466.91,348.27 L467.18,348.28 L467.45,346.59 L467.72,346.23 L468.00,346.01 L468.27,345.45 L468.54,347.14 L468.81,347.62 L469.08,347.06 L469.36,347.33 L469.63,348.74 L469.90,349.61 L470.17,349.62 L470.44,349.93 L470.72,349.07 L470.99,347.59 L471.26,347.48 L471.53,347.14 L471.80,347.17 L472.07,347.22 L472.35,348.02 L472.62,348.34 L472.89,348.98 L473.16,349.85 L473.43,349.03 L473.71,348.68 L473.98,347.97 L474.25,347.66 L474.52,348.41 L474.79,348.39 L475.07,349.27 L475.34,349.06 L475.61,388.16 L475.88,387.38 L476.15,387.15 L476.42,380.45 L476.70,381.66 L476.97,382.08 L477.24,382.78 L477.51,382.13 L477.78,380.25 L478.06,380.08 L478.33,378.71 L478.60,378.71 L478.87,379.06 L479.14,378.83 L479.42,378.53 L479.69,377.50 L479.96,377.85 L480.23,377.82 L480.50,377.96 L480.78,379.13 L481.05,378.91 L481.32,380.09 L481.59,380.10 L481.86,380.73 L482.13,381.30 L482.41,380.99 L482.68,381.34 L482.95,381.37 L483.22,380.70 L483.49,379.90 L483.77,380.07 L484.04,379.61 L484.31,379.45 L484.58,379.04 L484.85,379.44 L485.12,380.04 L485.40,380.77 L485.67,382.14 L485.94,382.21 L486.21,381.63 L486.48,382.54 L486.76,381.23 L487.03,381.47 L487.30,381.71 L487.57,381.35 L487.84,383.29 L488.12,383.37 L488.39,383.01 L488.66,381.35 L488.93,381.09 L489.20,380.42 L489.47,379.48 L489.75,380.19 L490.02,378.64 L490.29,378.81 L490.56,380.20 L490.83,379.53 L491.11,380.43 L491.38,380.36 L491.65,379.88 L491.92,380.36 L492.19,379.77 L492.47,379.17 L492.74,379.60 L493.01,380.11 L493.28,380.10 L493.55,380.17 L493.82,379.39" stroke="#6400d0" stroke-width="4.6" fill="none" stroke-linejoin="round" stroke-linecap="round"/>
<path d="M389.26,318.94 V365.22" stroke="#6400d0" stroke-width="4" stroke-linecap="round"/>
<path d="M585,235.8 H627" stroke="#000000" stroke-width="4" stroke-linecap="round"/>
<text x="637.6" y="242.4" font-size="17.3" text-anchor="start" font-weight="normal" fill="#000" textLength="48" lengthAdjust="spacingAndGlyphs" >Control</text>
<path d="M585,263 H627" stroke="#57fcfc" stroke-width="4" stroke-linecap="round"/>
<text x="637.6" y="269.6" font-size="17.3" text-anchor="start" font-weight="normal" fill="#000" textLength="85.7" lengthAdjust="spacingAndGlyphs" >CBD 0.3 &#956;M</text>
<path d="M585,291.1 H627" stroke="#2a92ff" stroke-width="4" stroke-linecap="round"/>
<text x="637.6" y="297.70000000000005" font-size="17.3" text-anchor="start" font-weight="normal" fill="#000" textLength="73.4" lengthAdjust="spacingAndGlyphs" >CBD 1 &#956;M</text>
<path d="M585,319.1 H627" stroke="#0000ff" stroke-width="4" stroke-linecap="round"/>
<text x="637.6" y="325.70000000000005" font-size="17.3" text-anchor="start" font-weight="normal" fill="#000" textLength="73.4" lengthAdjust="spacingAndGlyphs" >CBD 3 &#956;M</text>
<path d="M585,347.2 H627" stroke="#6400d0" stroke-width="4" stroke-linecap="round"/>
<text x="637.6" y="353.8" font-size="17.3" text-anchor="start" font-weight="normal" fill="#000" textLength="81.6" lengthAdjust="spacingAndGlyphs" >CBD 10 &#956;M</text>
<path d="M112.75,540.2 V778.5 M112.75,768.5 H710" stroke="#000" stroke-width="1.8" fill="none"/>
<path d="M103,763.40 H112.75" stroke="#000" stroke-width="1.8" fill="none"/>
<text x="92.5" y="771.0" font-size="21.5" text-anchor="end" font-weight="normal" fill="#000" >0</text>
<path d="M103,707.70 H112.75" stroke="#000" stroke-width="1.8" fill="none"/>
<text x="92.5" y="715.3" font-size="21.5" text-anchor="end" font-weight="normal" fill="#000" >100</text>
<path d="M103,652.00 H112.75" stroke="#000" stroke-width="1.8" fill="none"/>
<text x="92.5" y="659.6" font-size="21.5" text-anchor="end" font-weight="normal" fill="#000" >200</text>
<path d="M103,596.30 H112.75" stroke="#000" stroke-width="1.8" fill="none"/>
<text x="92.5" y="603.9" font-size="21.5" text-anchor="end" font-weight="normal" fill="#000" >300</text>
<path d="M103,540.60 H112.75" stroke="#000" stroke-width="1.8" fill="none"/>
<text x="92.5" y="548.1999999999999" font-size="21.5" text-anchor="end" font-weight="normal" fill="#000" >400</text>
<path d="M113.20,768.5 V778.5" stroke="#000" stroke-width="1.8" fill="none"/>
<text x="113.2" y="808.5" font-size="21.5" text-anchor="middle" font-weight="normal" fill="#000" >0</text>
<path d="M311.80,768.5 V778.5" stroke="#000" stroke-width="1.8" fill="none"/>
<text x="311.8" y="808.5" font-size="21.5" text-anchor="middle" font-weight="normal" fill="#000" >400</text>
<path d="M510.40,768.5 V778.5" stroke="#000" stroke-width="1.8" fill="none"/>
<text x="510.4" y="808.5" font-size="21.5" text-anchor="middle" font-weight="normal" fill="#000" >800</text>
<path d="M709.00,768.5 V778.5" stroke="#000" stroke-width="1.8" fill="none"/>
<text x="709.0" y="808.5" font-size="21.5" text-anchor="middle" font-weight="normal" fill="#000" >1200</text>
<text x="367" y="849" font-size="25.5" text-anchor="start" font-weight="bold" fill="#000" textLength="101" lengthAdjust="spacingAndGlyphs" >Time (s)</text>
<text transform="translate(27.5,733.9) rotate(-90)" x="0" y="0" font-size="26" font-weight="bold" textLength="159.3" lengthAdjust="spacingAndGlyphs">Current (pA)</text>
<circle cx="113.2" cy="588.3" r="6.05" stroke="#000000" stroke-width="1.7" fill="none"/>
<circle cx="118.6" cy="577.8" r="6.05" stroke="#000000" stroke-width="1.7" fill="none"/>
<circle cx="130.4" cy="580.6" r="6.05" stroke="#000000" stroke-width="1.7" fill="none"/>
<circle cx="152.6" cy="577.2" r="6.05" stroke="#000000" stroke-width="1.7" fill="none"/>
<circle cx="158.7" cy="579.8" r="6.05" stroke="#000000" stroke-width="1.7" fill="none"/>
<circle cx="164.8" cy="577.8" r="6.05" stroke="#000000" stroke-width="1.7" fill="none"/>
<circle cx="170.4" cy="577.2" r="6.05" stroke="#000000" stroke-width="1.7" fill="none"/>
<circle cx="175.9" cy="578.6" r="6.05" stroke="#000000" stroke-width="1.7" fill="none"/>
<circle cx="181" cy="577.2" r="6.05" stroke="#000000" stroke-width="1.7" fill="none"/>
<circle cx="186.6" cy="578.2" r="6.05" stroke="#000000" stroke-width="1.7" fill="none"/>
<circle cx="193.1" cy="579.8" r="6.05" stroke="#000000" stroke-width="1.7" fill="none"/>
<circle cx="198.2" cy="596.4" r="6.05" stroke="#000000" stroke-width="1.7" fill="none"/>
<circle cx="203.6" cy="579.8" r="6.05" stroke="#000000" stroke-width="1.7" fill="none"/>
<circle cx="219.4" cy="584.7" r="6.05" stroke="#000000" stroke-width="1.7" fill="none"/>
<circle cx="225.1" cy="584.7" r="6.05" stroke="#000000" stroke-width="1.7" fill="none"/>
<circle cx="230.8" cy="597.6" r="6.05" stroke="#000000" stroke-width="1.7" fill="none"/>
<circle cx="236.5" cy="582.8" r="6.05" stroke="#000000" stroke-width="1.7" fill="none"/>
<circle cx="241.4" cy="589" r="6.05" stroke="#000000" stroke-width="1.7" fill="none"/>
<circle cx="246.7" cy="591.2" r="6.05" stroke="#000000" stroke-width="1.7" fill="none"/>
<circle cx="252.5" cy="595.1" r="6.05" stroke="#000000" stroke-width="1.7" fill="none"/>
<circle cx="257.2" cy="596" r="6.05" stroke="#000000" stroke-width="1.7" fill="none"/>
<circle cx="261.6" cy="596" r="6.05" stroke="#000000" stroke-width="1.7" fill="none"/>
<circle cx="272.1" cy="590.7" r="6.05" stroke="#000000" stroke-width="1.7" fill="none"/>
<circle cx="277.4" cy="588.1" r="6.05" stroke="#000000" stroke-width="1.7" fill="none"/>
<circle cx="282.6" cy="581.9" r="6.05" stroke="#000000" stroke-width="1.7" fill="none"/>
<circle cx="287.9" cy="585.4" r="6.05" stroke="#000000" stroke-width="1.7" fill="none"/>
<circle cx="294" cy="591.6" r="6.05" stroke="#000000" stroke-width="1.7" fill="none"/>
<circle cx="304.6" cy="591.2" r="6.05" stroke="#000000" stroke-width="1.7" fill="none"/>
<circle cx="309.8" cy="590.7" r="6.05" stroke="#000000" stroke-width="1.7" fill="none"/>
<circle cx="321.2" cy="591.6" r="6.05" stroke="#000000" stroke-width="1.7" fill="none"/>
<circle cx="326.5" cy="594.2" r="6.05" stroke="#000000" stroke-width="1.7" fill="none"/>
<circle cx="331.8" cy="589.8" r="6.05" stroke="#000000" stroke-width="1.7" fill="none"/>
<circle cx="336.1" cy="589.5" r="6.05" stroke="#000000" stroke-width="1.7" fill="none"/>
<circle cx="341.4" cy="588.1" r="6.05" stroke="#000000" stroke-width="1.7" fill="none"/>
<circle cx="347" cy="603.1" r="6.05" stroke="#57fcfc" stroke-width="1.7" fill="none"/>
<circle cx="353.2" cy="596.1" r="6.05" stroke="#57fcfc" stroke-width="1.7" fill="none"/>
<circle cx="357.5" cy="597.8" r="6.05" stroke="#57fcfc" stroke-width="1.7" fill="none"/>
<circle cx="361.9" cy="603.1" r="6.05" stroke="#57fcfc" stroke-width="1.7" fill="none"/>
<circle cx="368.1" cy="600.4" r="6.05" stroke="#57fcfc" stroke-width="1.7" fill="none"/>
<circle cx="373.3" cy="593.4" r="6.05" stroke="#57fcfc" stroke-width="1.7" fill="none"/>
<circle cx="379.5" cy="597.8" r="6.05" stroke="#57fcfc" stroke-width="1.7" fill="none"/>
<circle cx="384.7" cy="596.1" r="6.05" stroke="#57fcfc" stroke-width="1.7" fill="none"/>
<circle cx="390" cy="597.8" r="6.05" stroke="#57fcfc" stroke-width="1.7" fill="none"/>
<circle cx="394.4" cy="597.8" r="6.05" stroke="#57fcfc" stroke-width="1.7" fill="none"/>
<circle cx="399.6" cy="596.9" r="6.05" stroke="#57fcfc" stroke-width="1.7" fill="none"/>
<circle cx="404.9" cy="605.7" r="6.05" stroke="#57fcfc" stroke-width="1.7" fill="none"/>
<circle cx="415.4" cy="601.3" r="6.05" stroke="#57fcfc" stroke-width="1.7" fill="none"/>
<circle cx="420.7" cy="604.8" r="6.05" stroke="#57fcfc" stroke-width="1.7" fill="none"/>
<circle cx="426" cy="598.7" r="6.05" stroke="#57fcfc" stroke-width="1.7" fill="none"/>
<circle cx="436.4" cy="621.9" r="6.05" stroke="#2a92ff" stroke-width="1.7" fill="none"/>
<circle cx="441.7" cy="633.7" r="6.05" stroke="#2a92ff" stroke-width="1.7" fill="none"/>
<circle cx="446.9" cy="635.4" r="6.05" stroke="#2a92ff" stroke-width="1.7" fill="none"/>
<circle cx="452.2" cy="643.3" r="6.05" stroke="#2a92ff" stroke-width="1.7" fill="none"/>
<circle cx="456.6" cy="635.4" r="6.05" stroke="#2a92ff" stroke-width="1.7" fill="none"/>
<circle cx="461.8" cy="636.3" r="6.05" stroke="#2a92ff" stroke-width="1.7" fill="none"/>
<circle cx="468" cy="633.7" r="6.05" stroke="#2a92ff" stroke-width="1.7" fill="none"/>
<circle cx="472.4" cy="638.1" r="6.05" stroke="#2a92ff" stroke-width="1.7" fill="none"/>
<circle cx="478.5" cy="642.5" r="6.05" stroke="#2a92ff" stroke-width="1.7" fill="none"/>
<circle cx="483.8" cy="640.7" r="6.05" stroke="#2a92ff" stroke-width="1.7" fill="none"/>
<circle cx="489" cy="645.1" r="6.05" stroke="#2a92ff" stroke-width="1.7" fill="none"/>
<circle cx="499.6" cy="649.5" r="6.05" stroke="#2a92ff" stroke-width="1.7" fill="none"/>
<circle cx="504.8" cy="649.5" r="6.05" stroke="#2a92ff" stroke-width="1.7" fill="none"/>
<circle cx="511" cy="644.2" r="6.05" stroke="#2a92ff" stroke-width="1.7" fill="none"/>
<circle cx="516.2" cy="645.1" r="6.05" stroke="#2a92ff" stroke-width="1.7" fill="none"/>
<circle cx="520.5" cy="687.5" r="6.05" stroke="#0000ff" stroke-width="1.7" fill="none"/>
<circle cx="525.8" cy="677" r="6.05" stroke="#0000ff" stroke-width="1.7" fill="none"/>
<circle cx="531.4" cy="679.6" r="6.05" stroke="#0000ff" stroke-width="1.7" fill="none"/>
<circle cx="536.3" cy="686.7" r="6.05" stroke="#0000ff" stroke-width="1.7" fill="none"/>
<circle cx="541.6" cy="692.8" r="6.05" stroke="#0000ff" stroke-width="1.7" fill="none"/>
<circle cx="546.8" cy="690.2" r="6.05" stroke="#0000ff" stroke-width="1.7" fill="none"/>
<circle cx="552.1" cy="697.2" r="6.05" stroke="#0000ff" stroke-width="1.7" fill="none"/>
<circle cx="557.4" cy="700.7" r="6.05" stroke="#0000ff" stroke-width="1.7" fill="none"/>
<circle cx="562.6" cy="699.8" r="6.05" stroke="#0000ff" stroke-width="1.7" fill="none"/>
<circle cx="567.9" cy="704.2" r="6.05" stroke="#0000ff" stroke-width="1.7" fill="none"/>
<circle cx="572.3" cy="706.8" r="6.05" stroke="#0000ff" stroke-width="1.7" fill="none"/>
<circle cx="577.5" cy="709.5" r="6.05" stroke="#0000ff" stroke-width="1.7" fill="none"/>
<circle cx="588.1" cy="712.1" r="6.05" stroke="#0000ff" stroke-width="1.7" fill="none"/>
<circle cx="593.3" cy="711.2" r="6.05" stroke="#0000ff" stroke-width="1.7" fill="none"/>
<circle cx="599.5" cy="713" r="6.05" stroke="#0000ff" stroke-width="1.7" fill="none"/>
<circle cx="605.6" cy="713.9" r="6.05" stroke="#0000ff" stroke-width="1.7" fill="none"/>
<circle cx="614.9" cy="734.9" r="6.05" stroke="#6400d0" stroke-width="1.7" fill="none"/>
<circle cx="621.1" cy="735.4" r="6.05" stroke="#6400d0" stroke-width="1.7" fill="none"/>
<circle cx="626" cy="755.1" r="6.05" stroke="#6400d0" stroke-width="1.7" fill="none"/>
<circle cx="631.6" cy="743.7" r="6.05" stroke="#6400d0" stroke-width="1.7" fill="none"/>
<circle cx="636.8" cy="748.1" r="6.05" stroke="#6400d0" stroke-width="1.7" fill="none"/>
<circle cx="642.1" cy="752.5" r="6.05" stroke="#6400d0" stroke-width="1.7" fill="none"/>
<circle cx="647.4" cy="749.8" r="6.05" stroke="#6400d0" stroke-width="1.7" fill="none"/>
<circle cx="651.8" cy="748.1" r="6.05" stroke="#6400d0" stroke-width="1.7" fill="none"/>
<circle cx="657.9" cy="748.9" r="6.05" stroke="#6400d0" stroke-width="1.7" fill="none"/>
<circle cx="662.3" cy="753.3" r="6.05" stroke="#6400d0" stroke-width="1.7" fill="none"/>
<circle cx="667.5" cy="761.2" r="6.05" stroke="#6400d0" stroke-width="1.7" fill="none"/>
<circle cx="672.8" cy="756" r="6.05" stroke="#6400d0" stroke-width="1.7" fill="none"/>
<circle cx="678.1" cy="756" r="6.05" stroke="#6400d0" stroke-width="1.7" fill="none"/>
<circle cx="683.3" cy="757.7" r="6.05" stroke="#6400d0" stroke-width="1.7" fill="none"/>
<circle cx="688.6" cy="757.7" r="6.05" stroke="#6400d0" stroke-width="1.7" fill="none"/>
<circle cx="693.9" cy="757.7" r="6.05" stroke="#6400d0" stroke-width="1.7" fill="none"/>
<circle cx="699.1" cy="759.5" r="6.05" stroke="#6400d0" stroke-width="1.7" fill="none"/>
<circle cx="704.4" cy="760.4" r="6.05" stroke="#6400d0" stroke-width="1.7" fill="none"/>
<circle cx="709.6" cy="762.1" r="6.05" stroke="#6400d0" stroke-width="1.7" fill="none"/>
<circle cx="714.9" cy="758.6" r="6.05" stroke="#6400d0" stroke-width="1.7" fill="none"/>
<circle cx="721.1" cy="762.1" r="6.05" stroke="#6400d0" stroke-width="1.7" fill="none"/>
<circle cx="606.1" cy="547" r="6.1" stroke="#000000" stroke-width="1.7" fill="none"/>
<text x="638.2" y="553.6" font-size="17.3" text-anchor="start" font-weight="normal" fill="#000" textLength="48" lengthAdjust="spacingAndGlyphs" >Control</text>
<circle cx="606.1" cy="573.1" r="6.1" stroke="#57fcfc" stroke-width="1.7" fill="none"/>
<text x="638.2" y="581" font-size="17.3" text-anchor="start" font-weight="normal" fill="#000" textLength="85.7" lengthAdjust="spacingAndGlyphs" >CBD 0.3 &#956;M</text>
<circle cx="606.1" cy="599.9" r="6.1" stroke="#2a92ff" stroke-width="1.7" fill="none"/>
<text x="638.2" y="608" font-size="17.3" text-anchor="start" font-weight="normal" fill="#000" textLength="73.4" lengthAdjust="spacingAndGlyphs" >CBD 1 &#956;M</text>
<circle cx="606.1" cy="626.9" r="6.1" stroke="#0000ff" stroke-width="1.7" fill="none"/>
<text x="638.2" y="634.9" font-size="17.3" text-anchor="start" font-weight="normal" fill="#000" textLength="73.4" lengthAdjust="spacingAndGlyphs" >CBD 3 &#956;M</text>
<circle cx="606.1" cy="653.7" r="6.1" stroke="#6400d0" stroke-width="1.7" fill="none"/>
<text x="638.2" y="661.9" font-size="17.3" text-anchor="start" font-weight="normal" fill="#000" textLength="81.6" lengthAdjust="spacingAndGlyphs" >CBD 10 &#956;M</text>
<path d="M113.6,920.9 V1155.3 M113.6,1149.6 H720.8" stroke="#000" stroke-width="1.8" fill="none"/>
<path d="M103.5,1149.60 H113.6" stroke="#000" stroke-width="1.8" fill="none"/>
<text x="92.5" y="1156.0" font-size="21.5" text-anchor="end" font-weight="normal" fill="#000" >0</text>
<path d="M103.5,1104.10 H113.6" stroke="#000" stroke-width="1.8" fill="none"/>
<text x="92.5" y="1110.5" font-size="21.5" text-anchor="end" font-weight="normal" fill="#000" >20</text>
<path d="M103.5,1058.60 H113.6" stroke="#000" stroke-width="1.8" fill="none"/>
<text x="92.5" y="1065.0" font-size="21.5" text-anchor="end" font-weight="normal" fill="#000" >40</text>
<path d="M103.5,1013.10 H113.6" stroke="#000" stroke-width="1.8" fill="none"/>
<text x="92.5" y="1019.4999999999999" font-size="21.5" text-anchor="end" font-weight="normal" fill="#000" >60</text>
<path d="M103.5,967.60 H113.6" stroke="#000" stroke-width="1.8" fill="none"/>
<text x="92.5" y="973.9999999999999" font-size="21.5" text-anchor="end" font-weight="normal" fill="#000" >80</text>
<path d="M103.5,922.10 H113.6" stroke="#000" stroke-width="1.8" fill="none"/>
<text x="92.5" y="928.4999999999999" font-size="21.5" text-anchor="end" font-weight="normal" fill="#000" >100</text>
<path d="M113.30,1149.6 V1155.3" stroke="#000" stroke-width="1.8" fill="none"/>
<path d="M134.86,1149.6 V1155.3" stroke="#000" stroke-width="1.8" fill="none"/>
<path d="M151.57,1149.6 V1155.3" stroke="#000" stroke-width="1.8" fill="none"/>
<path d="M165.23,1149.6 V1155.3" stroke="#000" stroke-width="1.8" fill="none"/>
<path d="M176.78,1149.6 V1155.3" stroke="#000" stroke-width="1.8" fill="none"/>
<path d="M186.78,1149.6 V1155.3" stroke="#000" stroke-width="1.8" fill="none"/>
<path d="M195.61,1149.6 V1155.3" stroke="#000" stroke-width="1.8" fill="none"/>
<path d="M203.50,1149.6 V1159.4" stroke="#000" stroke-width="1.8" fill="none"/>
<path d="M255.43,1149.6 V1155.3" stroke="#000" stroke-width="1.8" fill="none"/>
<path d="M285.80,1149.6 V1155.3" stroke="#000" stroke-width="1.8" fill="none"/>
<path d="M307.36,1149.6 V1155.3" stroke="#000" stroke-width="1.8" fill="none"/>
<path d="M324.07,1149.6 V1155.3" stroke="#000" stroke-width="1.8" fill="none"/>
<path d="M337.73,1149.6 V1155.3" stroke="#000" stroke-width="1.8" fill="none"/>
<path d="M349.28,1149.6 V1155.3" stroke="#000" stroke-width="1.8" fill="none"/>
<path d="M359.28,1149.6 V1155.3" stroke="#000" stroke-width="1.8" fill="none"/>
<path d="M368.11,1149.6 V1155.3" stroke="#000" stroke-width="1.8" fill="none"/>
<path d="M376.00,1149.6 V1159.4" stroke="#000" stroke-width="1.8" fill="none"/>
<path d="M427.93,1149.6 V1155.3" stroke="#000" stroke-width="1.8" fill="none"/>
<path d="M458.30,1149.6 V1155.3" stroke="#000" stroke-width="1.8" fill="none"/>
<path d="M479.86,1149.6 V1155.3" stroke="#000" stroke-width="1.8" fill="none"/>
<path d="M496.57,1149.6 V1155.3" stroke="#000" stroke-width="1.8" fill="none"/>
<path d="M510.23,1149.6 V1155.3" stroke="#000" stroke-width="1.8" fill="none"/>
<path d="M521.78,1149.6 V1155.3" stroke="#000" stroke-width="1.8" fill="none"/>
<path d="M531.78,1149.6 V1155.3" stroke="#000" stroke-width="1.8" fill="none"/>
<path d="M540.61,1149.6 V1155.3" stroke="#000" stroke-width="1.8" fill="none"/>
<path d="M548.50,1149.6 V1159.4" stroke="#000" stroke-width="1.8" fill="none"/>
<path d="M600.43,1149.6 V1155.3" stroke="#000" stroke-width="1.8" fill="none"/>
<path d="M630.80,1149.6 V1155.3" stroke="#000" stroke-width="1.8" fill="none"/>
<path d="M652.36,1149.6 V1155.3" stroke="#000" stroke-width="1.8" fill="none"/>
<path d="M669.07,1149.6 V1155.3" stroke="#000" stroke-width="1.8" fill="none"/>
<path d="M682.73,1149.6 V1155.3" stroke="#000" stroke-width="1.8" fill="none"/>
<path d="M694.28,1149.6 V1155.3" stroke="#000" stroke-width="1.8" fill="none"/>
<path d="M704.28,1149.6 V1155.3" stroke="#000" stroke-width="1.8" fill="none"/>
<path d="M713.11,1149.6 V1155.3" stroke="#000" stroke-width="1.8" fill="none"/>
<path d="M721.00,1149.6 V1159.4" stroke="#000" stroke-width="1.8" fill="none"/>
<text x="203.5" y="1189" font-size="20.5" text-anchor="middle" font-weight="normal" fill="#000" >0,1</text>
<text x="376.0" y="1189" font-size="20.5" text-anchor="middle" font-weight="normal" fill="#000" >1</text>
<text x="548.5" y="1189" font-size="20.5" text-anchor="middle" font-weight="normal" fill="#000" >10</text>
<text x="721.0" y="1189" font-size="20.5" text-anchor="middle" font-weight="normal" fill="#000" >100</text>
<text x="294.5" y="1230.7" font-size="26" text-anchor="start" font-weight="bold" fill="#000" textLength="247.6" lengthAdjust="spacingAndGlyphs" >Concentration (&#956;M)</text>
<text transform="translate(27.5,1120.3) rotate(-90)" x="0" y="0" font-size="26" font-weight="bold" textLength="171.5" lengthAdjust="spacingAndGlyphs">Inhibition (%)</text>
<path d="M113.30,1149.11 L115.33,1149.09 L117.35,1149.07 L119.38,1149.05 L121.41,1149.03 L123.43,1149.00 L125.46,1148.98 L127.48,1148.96 L129.51,1148.93 L131.53,1148.90 L133.56,1148.88 L135.59,1148.85 L137.61,1148.82 L139.64,1148.79 L141.66,1148.75 L143.69,1148.72 L145.71,1148.69 L147.74,1148.65 L149.77,1148.61 L151.79,1148.57 L153.82,1148.53 L155.84,1148.49 L157.87,1148.44 L159.89,1148.40 L161.92,1148.35 L163.94,1148.30 L165.97,1148.25 L168.00,1148.19 L170.02,1148.14 L172.05,1148.08 L174.07,1148.02 L176.10,1147.96 L178.12,1147.89 L180.15,1147.83 L182.18,1147.75 L184.20,1147.68 L186.23,1147.61 L188.25,1147.53 L190.28,1147.44 L192.30,1147.36 L194.33,1147.27 L196.36,1147.18 L198.38,1147.08 L200.41,1146.98 L202.43,1146.88 L204.46,1146.77 L206.48,1146.66 L208.51,1146.54 L210.53,1146.42 L212.56,1146.30 L214.59,1146.17 L216.61,1146.03 L218.64,1145.89 L220.66,1145.75 L222.69,1145.60 L224.71,1145.44 L226.74,1145.28 L228.77,1145.11 L230.79,1144.93 L232.82,1144.75 L234.84,1144.56 L236.87,1144.36 L238.89,1144.16 L240.92,1143.94 L242.95,1143.72 L244.97,1143.50 L247.00,1143.26 L249.02,1143.01 L251.05,1142.76 L253.07,1142.49 L255.10,1142.22 L257.12,1141.93 L259.15,1141.64 L261.18,1141.33 L263.20,1141.01 L265.23,1140.68 L267.25,1140.34 L269.28,1139.98 L271.30,1139.62 L273.33,1139.24 L275.36,1138.84 L277.38,1138.43 L279.41,1138.01 L281.43,1137.57 L283.46,1137.11 L285.48,1136.64 L287.51,1136.16 L289.54,1135.65 L291.56,1135.13 L293.59,1134.59 L295.61,1134.03 L297.64,1133.45 L299.66,1132.85 L301.69,1132.23 L303.72,1131.59 L305.74,1130.93 L307.77,1130.25 L309.79,1129.55 L311.82,1128.82 L313.84,1128.06 L315.87,1127.29 L317.89,1126.49 L319.92,1125.66 L321.95,1124.81 L323.97,1123.93 L326.00,1123.02 L328.02,1122.09 L330.05,1121.12 L332.07,1120.13 L334.10,1119.11 L336.13,1118.06 L338.15,1116.98 L340.18,1115.87 L342.20,1114.73 L344.23,1113.56 L346.25,1112.35 L348.28,1111.11 L350.31,1109.84 L352.33,1108.54 L354.36,1107.20 L356.38,1105.83 L358.41,1104.43 L360.43,1103.00 L362.46,1101.53 L364.48,1100.02 L366.51,1098.49 L368.54,1096.92 L370.56,1095.31 L372.59,1093.67 L374.61,1092.00 L376.64,1090.30 L378.66,1088.57 L380.69,1086.80 L382.72,1085.00 L384.74,1083.17 L386.77,1081.31 L388.79,1079.43 L390.82,1077.51 L392.84,1075.56 L394.87,1073.59 L396.90,1071.60 L398.92,1069.57 L400.95,1067.53 L402.97,1065.46 L405.00,1063.37 L407.02,1061.26 L409.05,1059.14 L411.07,1056.99 L413.10,1054.83 L415.13,1052.66 L417.15,1050.47 L419.18,1048.27 L421.20,1046.06 L423.23,1043.85 L425.25,1041.62 L427.28,1039.40 L429.31,1037.17 L431.33,1034.94 L433.36,1032.71 L435.38,1030.48 L437.41,1028.26 L439.43,1026.05 L441.46,1023.84 L443.49,1021.64 L445.51,1019.45 L447.54,1017.27 L449.56,1015.11 L451.59,1012.96 L453.61,1010.83 L455.64,1008.71 L457.66,1006.62 L459.69,1004.55 L461.72,1002.50 L463.74,1000.47 L465.77,998.47 L467.79,996.50 L469.82,994.55 L471.84,992.62 L473.87,990.73 L475.90,988.87 L477.92,987.03 L479.95,985.23 L481.97,983.46 L484.00,981.72 L486.02,980.01 L488.05,978.33 L490.08,976.69 L492.10,975.08 L494.13,973.50 L496.15,971.96 L498.18,970.45 L500.20,968.97 L502.23,967.53 L504.25,966.12 L506.28,964.75 L508.31,963.40 L510.33,962.09 L512.36,960.82 L514.38,959.58 L516.41,958.36 L518.43,957.18 L520.46,956.04 L522.49,954.92 L524.51,953.83 L526.54,952.78 L528.56,951.75 L530.59,950.76 L532.61,949.79 L534.64,948.85 L536.67,947.94 L538.69,947.05 L540.72,946.20 L542.74,945.36 L544.77,944.56 L546.79,943.78 L548.82,943.02 L550.84,942.29 L552.87,941.58 L554.90,940.89 L556.92,940.23 L558.95,939.58 L560.97,938.96 L563.00,938.36 L565.02,937.78 L567.05,937.21 L569.08,936.67 L571.10,936.14 L573.13,935.64 L575.15,935.15 L577.18,934.67 L579.20,934.21 L581.23,933.77 L583.26,933.35 L585.28,932.93 L587.31,932.54 L589.33,932.15 L591.36,931.78 L593.38,931.43 L595.41,931.08 L597.44,930.75 L599.46,930.43 L601.49,930.12 L603.51,929.82 L605.54,929.53 L607.56,929.26 L609.59,928.99 L611.61,928.73 L613.64,928.49 L615.67,928.25 L617.69,928.02 L619.72,927.79 L621.74,927.58 L623.77,927.38 L625.79,927.18 L627.82,926.99 L629.85,926.80 L631.87,926.62 L633.90,926.45 L635.92,926.29 L637.95,926.13 L639.97,925.98 L642.00,925.83 L644.03,925.69 L646.05,925.56 L648.08,925.42 L650.10,925.30 L652.13,925.18 L654.15,925.06 L656.18,924.95 L658.20,924.84 L660.23,924.74 L662.26,924.64 L664.28,924.54 L666.31,924.45 L668.33,924.36 L670.36,924.27 L672.38,924.19 L674.41,924.11 L676.44,924.03 L678.46,923.96 L680.49,923.89 L682.51,923.82 L684.54,923.75 L686.56,923.69 L688.59,923.63 L690.62,923.57 L692.64,923.52 L694.67,923.46 L696.69,923.41 L698.72,923.36 L700.74,923.31 L702.77,923.26 L704.79,923.22 L706.82,923.18 L708.85,923.14 L710.87,923.10 L712.90,923.06 L714.92,923.02 L716.95,922.99 L718.97,922.95 L721.00,922.92" stroke="#0000ff" stroke-width="4" fill="none" stroke-linecap="round"/>
<path d="M285.80,1132.08 V1142.09 M270.20,1132.08 H301.40 M270.20,1142.09 H301.40" stroke="#0000ff" stroke-width="2" fill="none"/>
<circle cx="285.80" cy="1137.09" r="8.6" fill="#0000ff"/>
<path d="M376.00,1068.93 V1103.33 M360.40,1068.93 H391.60 M360.40,1103.33 H391.60" stroke="#0000ff" stroke-width="2" fill="none"/>
<circle cx="376.00" cy="1086.13" r="8.6" fill="#0000ff"/>
<path d="M458.30,991.15 V1027.77 M442.70,991.15 H473.90 M442.70,1027.77 H473.90" stroke="#0000ff" stroke-width="2" fill="none"/>
<circle cx="458.30" cy="1009.46" r="8.6" fill="#0000ff"/>
<path d="M548.50,929.15 V940.53 M532.90,929.15 H564.10 M532.90,940.53 H564.10" stroke="#0000ff" stroke-width="2" fill="none"/>
<circle cx="548.50" cy="934.84" r="8.6" fill="#0000ff"/>
<circle cx="509.3" cy="1059.3" r="8.8" fill="#0000ff"/>
<text x="545.9" y="1067.3" font-size="21" text-anchor="start" font-weight="normal" fill="#000" textLength="77" lengthAdjust="spacingAndGlyphs" >CBD (RT)</text>
<text x="545.9" y="1093.6" font-size="21" textLength="174.4" lengthAdjust="spacingAndGlyphs">IC<tspan font-size="13" dy="6">50</tspan><tspan dy="-6"> = 2.07 &#177; 0.12 &#956;M</tspan></text>
<text x="545.9" y="1126" font-size="21" text-anchor="start" font-weight="normal" fill="#000" textLength="39.6" lengthAdjust="spacingAndGlyphs" >n = 6</text>
<rect x="57.46" y="328.04" width="4.57" height="3.61" fill="#fff"/>
<rect x="63.94" y="328.04" width="4.40" height="3.61" fill="#fff"/>
<rect x="195.55" y="425.69" width="4.57" height="3.61" fill="#fff"/>
<rect x="202.03" y="425.69" width="4.40" height="3.61" fill="#fff"/>
<rect x="675.85" y="295.71" width="3.58" height="3.29" fill="#fff"/>
<rect x="680.84" y="295.71" width="3.46" height="3.29" fill="#fff"/>
<rect x="675.56" y="351.81" width="3.56" height="3.29" fill="#fff"/>
<rect x="680.52" y="351.81" width="3.44" height="3.29" fill="#fff"/>
<rect x="57.46" y="712.99" width="4.57" height="3.61" fill="#fff"/>
<rect x="63.94" y="712.99" width="4.40" height="3.61" fill="#fff"/>
<rect x="685.92" y="806.19" width="4.57" height="3.61" fill="#fff"/>
<rect x="692.39" y="806.19" width="4.40" height="3.61" fill="#fff"/>
<rect x="676.45" y="606.01" width="3.58" height="3.29" fill="#fff"/>
<rect x="681.44" y="606.01" width="3.46" height="3.29" fill="#fff"/>
<rect x="676.16" y="659.91" width="3.56" height="3.29" fill="#fff"/>
<rect x="681.12" y="659.91" width="3.44" height="3.29" fill="#fff"/>
<rect x="57.46" y="926.19" width="4.57" height="3.61" fill="#fff"/>
<rect x="63.94" y="926.19" width="4.40" height="3.61" fill="#fff"/>
<rect x="207.11" y="1186.77" width="4.40" height="3.53" fill="#fff"/>
<rect x="213.31" y="1186.77" width="4.23" height="3.53" fill="#fff"/>
<rect x="371.06" y="1186.77" width="4.40" height="3.53" fill="#fff"/>
<rect x="377.27" y="1186.77" width="4.23" height="3.53" fill="#fff"/>
<rect x="537.86" y="1186.77" width="4.40" height="3.53" fill="#fff"/>
<rect x="544.06" y="1186.77" width="4.23" height="3.53" fill="#fff"/>
<rect x="704.65" y="1186.77" width="4.40" height="3.53" fill="#fff"/>
<rect x="710.86" y="1186.77" width="4.23" height="3.53" fill="#fff"/>
<rect x="669.56" y="1091.33" width="4.02" height="3.57" fill="#fff"/>
<rect x="675.20" y="1091.33" width="3.88" height="3.57" fill="#fff"/>
</svg></body></html>
